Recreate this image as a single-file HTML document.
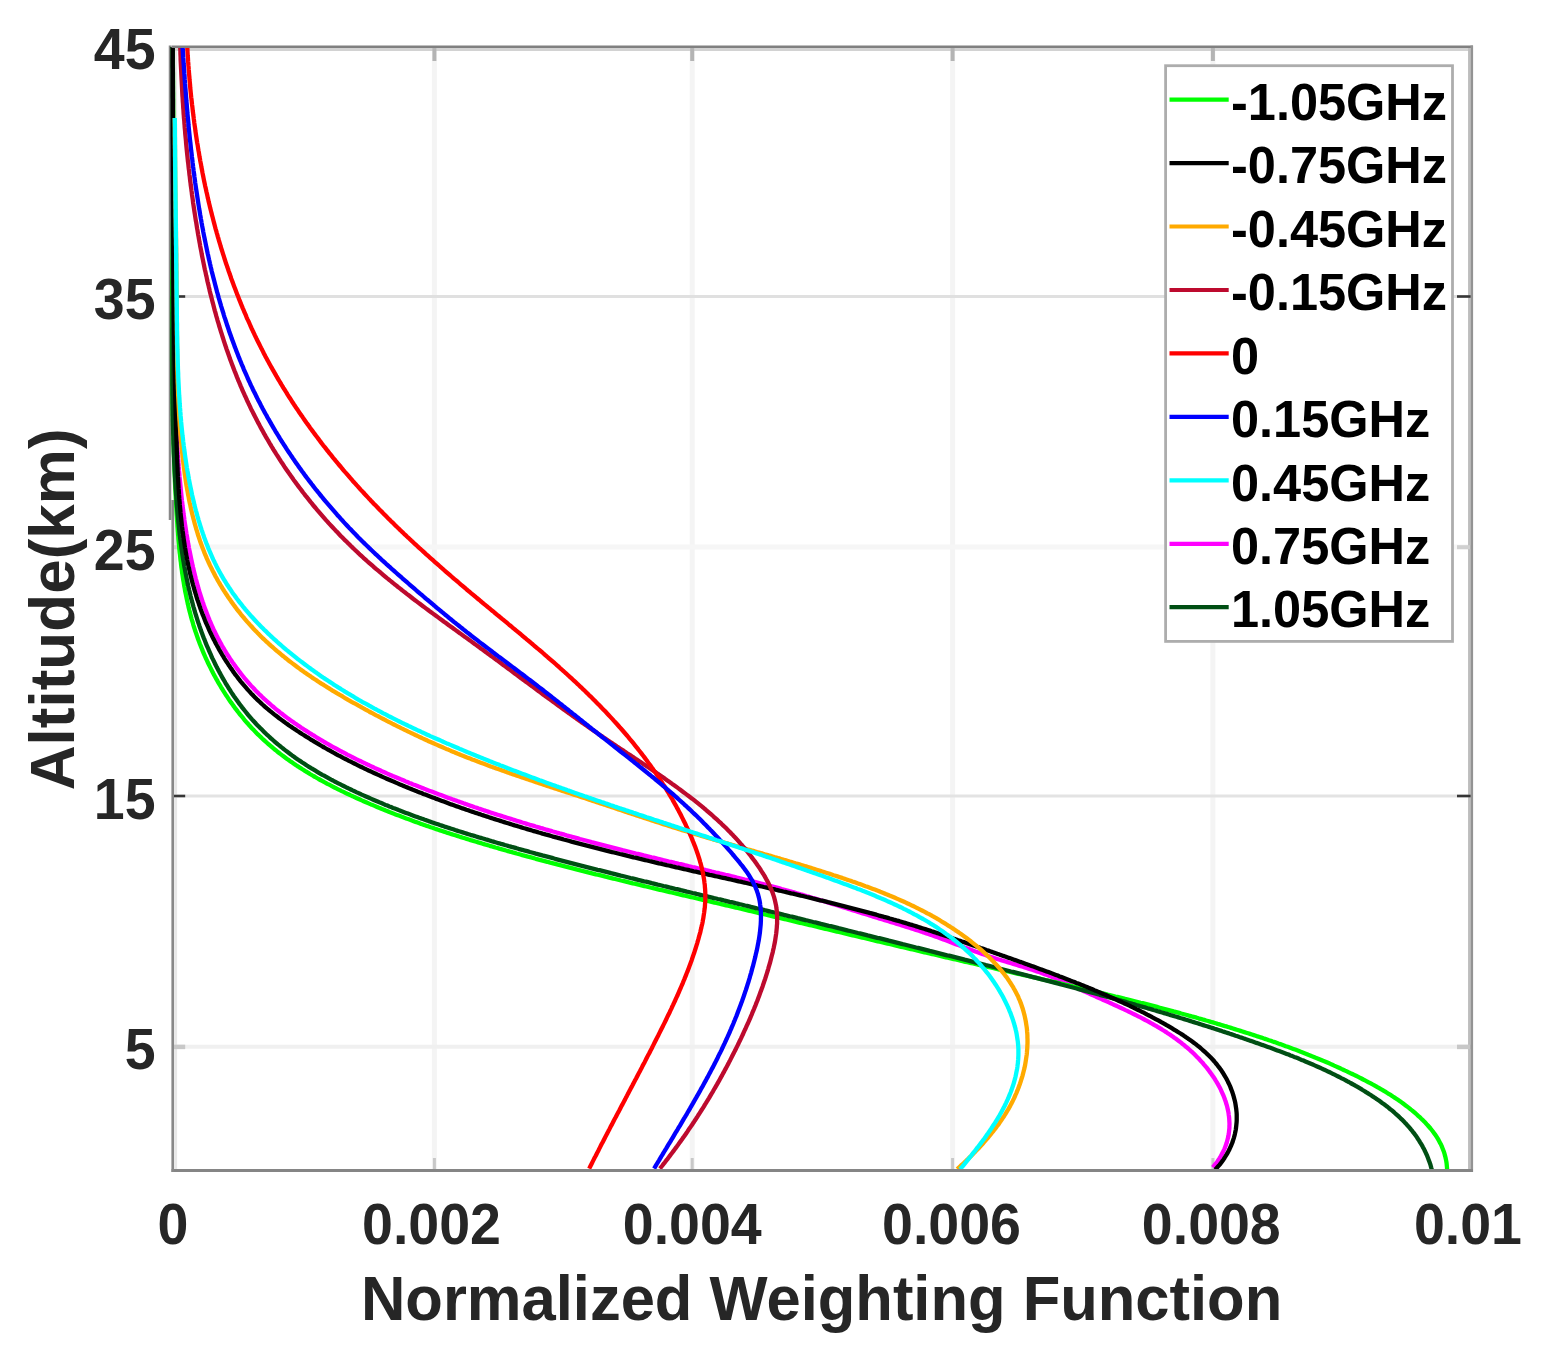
<!DOCTYPE html>
<html><head><meta charset="utf-8"><title>Normalized Weighting Function</title>
<style>html,body{margin:0;padding:0;background:#fff;overflow:hidden}svg{display:block}</style>
</head><body>
<svg width="1551" height="1360" viewBox="0 0 1551 1360">
<rect x="0" y="0" width="1551" height="1360" fill="#ffffff"/>
<line x1="434.4" y1="48" x2="434.4" y2="1169" stroke="#f4f4f4" stroke-width="5"/>
<line x1="692.2" y1="48" x2="692.2" y2="1169" stroke="#f4f4f4" stroke-width="5"/>
<line x1="952.6" y1="48" x2="952.6" y2="1169" stroke="#f4f4f4" stroke-width="5"/>
<line x1="1212.9" y1="48" x2="1212.9" y2="1169" stroke="#f4f4f4" stroke-width="5"/>
<line x1="174" y1="296.4" x2="1470" y2="296.4" stroke="#e0e0e0" stroke-width="3"/>
<line x1="174" y1="546.9" x2="1470" y2="546.9" stroke="#f6f6f6" stroke-width="5"/>
<line x1="174" y1="795.9" x2="1470" y2="795.9" stroke="#e3e3e3" stroke-width="3"/>
<line x1="174" y1="1046.7" x2="1470" y2="1046.7" stroke="#f0f0f0" stroke-width="4"/>
<line x1="175.6" y1="48" x2="175.6" y2="1169" stroke="#e8e8e8" stroke-width="3"/>
<line x1="174" y1="49.5" x2="1470" y2="49.5" stroke="#d2d2d2" stroke-width="3"/>
<line x1="1469.3" y1="48" x2="1469.3" y2="1169" stroke="#bdbdbd" stroke-width="2.5"/>
<line x1="434.4" y1="1169" x2="434.4" y2="1158" stroke="#c8c8c8" stroke-width="3"/>
<line x1="434.4" y1="47" x2="434.4" y2="61" stroke="#b4b4b4" stroke-width="4"/>
<line x1="692.2" y1="1169" x2="692.2" y2="1158" stroke="#c8c8c8" stroke-width="3"/>
<line x1="692.2" y1="47" x2="692.2" y2="61" stroke="#b4b4b4" stroke-width="4"/>
<line x1="952.6" y1="1169" x2="952.6" y2="1158" stroke="#c8c8c8" stroke-width="3"/>
<line x1="952.6" y1="47" x2="952.6" y2="61" stroke="#b4b4b4" stroke-width="4"/>
<line x1="1212.9" y1="1169" x2="1212.9" y2="1158" stroke="#c8c8c8" stroke-width="3"/>
<line x1="1212.9" y1="47" x2="1212.9" y2="61" stroke="#b4b4b4" stroke-width="4"/>
<line x1="173" y1="296.5" x2="185.2" y2="296.5" stroke="#363636" stroke-width="2.6"/>
<line x1="1471" y1="296.5" x2="1457" y2="296.5" stroke="#363636" stroke-width="2.6"/>
<line x1="173" y1="547.2" x2="185.2" y2="547.2" stroke="#d0d0d0" stroke-width="4"/>
<line x1="1471" y1="547.2" x2="1457" y2="547.2" stroke="#d0d0d0" stroke-width="4"/>
<line x1="173" y1="796.0" x2="185.2" y2="796.0" stroke="#363636" stroke-width="2.6"/>
<line x1="1471" y1="796.0" x2="1457" y2="796.0" stroke="#363636" stroke-width="2.6"/>
<line x1="173" y1="1046.9" x2="185.2" y2="1046.9" stroke="#c8c8c8" stroke-width="4.5"/>
<line x1="1471" y1="1046.9" x2="1457" y2="1046.9" stroke="#c8c8c8" stroke-width="4.5"/>
<line x1="170" y1="45.5" x2="170" y2="520" stroke="#888888" stroke-width="2.5"/>
<path d="M172.7,47.0 L172.7,49.0 L172.7,51.0 L172.7,53.0 L172.7,55.0 L172.8,57.0 L172.8,59.0 L172.8,61.0 L172.8,63.0 L172.8,65.0 L172.9,67.0 L172.9,69.0 L172.9,71.0 L172.9,73.0 L172.9,75.0 L172.9,77.0 L172.9,79.0 L172.9,81.0 L172.9,83.0 L172.9,85.0 L173.0,87.0 L173.0,89.0 L173.0,91.0 L173.0,93.0 L173.0,95.0 L173.0,97.0 L173.0,99.0 L173.0,101.0 L173.0,103.0 L173.0,104.9 L173.0,106.9 L173.0,108.9 L173.0,110.9 L173.0,112.9 L173.0,114.9 L173.0,116.9 L173.0,118.9 L173.0,120.9 L173.0,122.9 L173.0,124.9 L173.0,126.9 L172.9,128.9 L172.9,130.9 L172.9,132.9 L172.9,134.9 L172.9,136.9 L172.9,138.9 L172.9,140.9 L172.9,142.9 L172.9,144.9 L172.9,146.9 L172.9,148.9 L172.9,150.9 L172.9,152.9 L172.8,154.9 L172.8,156.9 L172.8,158.9 L172.8,160.9 L172.8,162.9 L172.8,164.9 L172.8,166.9 L172.8,168.9 L172.8,170.9 L172.7,172.9 L172.7,174.9 L172.7,176.9 L172.7,178.9 L172.7,180.9 L172.7,182.9 L172.7,184.9 L172.7,186.9 L172.6,188.9 L172.6,190.9 L172.6,192.9 L172.6,194.9 L172.6,196.9 L172.6,198.9 L172.6,200.9 L172.6,202.9 L172.6,204.9 L172.5,206.9 L172.5,208.9 L172.5,210.9 L172.5,212.9 L172.5,214.9 L172.5,216.9 L172.5,218.9 L172.5,220.9 L172.5,222.8 L172.5,224.8 L172.5,226.8 L172.4,228.8 L172.4,230.8 L172.4,232.8 L172.4,234.8 L172.4,236.8 L172.4,238.8 L172.4,240.8 L172.4,242.8 L172.4,244.8 L172.4,246.8 L172.4,248.8 L172.4,250.8 L172.4,252.8 L172.4,254.8 L172.4,256.8 L172.4,258.8 L172.4,260.8 L172.4,262.8 L172.4,264.8 L172.4,266.8 L172.4,268.8 L172.4,270.8 L172.4,272.8 L172.4,274.8 L172.4,276.8 L172.4,278.8 L172.4,280.8 L172.4,282.8 L172.4,284.8 L172.5,286.8 L172.5,288.8 L172.5,290.8 L172.5,292.8 L172.5,294.8 L172.5,296.8 L172.5,298.8 L172.5,300.8 L172.6,302.8 L172.6,304.8 L172.6,306.7 L172.6,308.7 L172.6,310.7 L172.7,312.7 L172.7,314.7 L172.7,316.7 L172.7,318.7 L172.8,320.7 L172.8,322.7 L172.8,324.7 L172.8,326.7 L172.9,328.7 L172.9,330.7 L172.9,332.7 L173.0,334.7 L173.0,336.7 L173.0,338.7 L173.1,340.7 L173.1,342.7 L173.2,344.7 L173.2,346.7 L173.2,348.7 L173.3,350.7 L173.3,352.7 L173.4,354.7 L173.4,356.7 L173.5,358.7 L173.5,360.7 L173.6,362.7 L173.6,364.7 L173.7,366.6 L173.8,368.6 L173.8,370.6 L173.9,372.6 L173.9,374.6 L174.0,376.6 L174.1,378.6 L174.1,380.6 L174.2,382.6 L174.3,384.6 L174.3,386.6 L174.4,388.6 L174.5,390.6 L174.6,392.6 L174.6,394.6 L174.7,396.6 L174.8,398.6 L174.9,400.6 L175.0,402.6 L175.1,404.6 L175.1,406.6 L175.2,408.6 L175.3,410.6 L175.4,412.5 L175.5,414.5 L175.6,416.5 L175.7,418.5 L175.8,420.5 L175.9,422.5 L176.0,424.5 L176.1,426.5 L176.2,428.5 L176.3,430.5 L176.5,432.5 L176.6,434.5 L176.7,436.5 L176.8,438.5 L176.9,440.5 L177.1,442.5 L177.2,444.5 L177.3,446.5 L177.4,448.5 L177.6,450.5 L177.7,452.4 L177.8,454.4 L178.0,456.4 L178.1,458.4 L178.3,460.4 L178.4,462.4 L178.6,464.4 L178.7,466.4 L178.9,468.4 L179.0,470.4 L179.2,472.4 L179.4,474.4 L179.5,476.4 L179.7,478.3 L179.9,480.3 L180.1,482.3 L180.3,484.3 L180.5,486.3 L180.7,488.3 L180.9,490.3 L181.1,492.3 L181.3,494.3 L181.5,496.2 L181.7,498.2 L181.9,500.2 L182.2,502.2 L182.4,504.2 L182.6,506.2 L182.9,508.1 L183.1,510.1 L183.4,512.1 L183.6,514.1 L183.9,516.1 L184.2,518.0 L184.4,520.0 L184.7,522.0 L185.0,524.0 L185.3,525.9 L185.6,527.9 L185.9,529.9 L186.2,531.9 L186.5,533.8 L186.9,535.8 L187.2,537.8 L187.5,539.7 L187.9,541.7 L188.2,543.7 L188.6,545.6 L188.9,547.6 L189.3,549.6 L189.7,551.5 L190.1,553.5 L190.5,555.5 L190.9,557.4 L191.3,559.4 L191.7,561.3 L192.1,563.3 L192.6,565.2 L193.0,567.2 L193.5,569.1 L193.9,571.1 L194.4,573.0 L194.9,575.0 L195.3,576.9 L195.8,578.8 L196.4,580.8 L196.9,582.7 L197.4,584.6 L197.9,586.5 L198.5,588.4 L199.0,590.4 L199.6,592.3 L200.2,594.2 L200.8,596.1 L201.4,598.0 L202.0,599.9 L202.6,601.7 L203.3,603.6 L203.9,605.5 L204.6,607.4 L205.3,609.2 L206.0,611.1 L206.7,613.0 L207.4,614.8 L208.1,616.7 L208.9,618.5 L209.6,620.3 L210.4,622.2 L211.2,624.0 L212.0,625.8 L212.8,627.6 L213.6,629.4 L214.5,631.2 L215.4,633.0 L216.2,634.8 L217.1,636.5 L218.0,638.3 L219.0,640.1 L219.9,641.8 L220.9,643.6 L221.8,645.3 L222.8,647.0 L223.8,648.7 L224.9,650.5 L225.9,652.2 L226.9,653.8 L228.0,655.5 L229.1,657.2 L230.2,658.9 L231.3,660.5 L232.4,662.2 L233.6,663.8 L234.7,665.4 L235.9,667.0 L237.1,668.7 L238.3,670.2 L239.5,671.8 L240.7,673.4 L242.0,675.0 L243.2,676.5 L244.5,678.1 L245.8,679.6 L247.1,681.1 L248.4,682.6 L249.7,684.1 L251.0,685.6 L252.4,687.1 L253.8,688.5 L255.1,690.0 L256.5,691.4 L257.9,692.8 L259.3,694.2 L260.8,695.6 L262.2,697.0 L263.6,698.3 L265.1,699.7 L266.6,701.0 L268.1,702.4 L269.6,703.7 L271.1,705.0 L272.6,706.3 L274.1,707.5 L275.6,708.8 L277.2,710.1 L278.7,711.3 L280.3,712.6 L281.9,713.8 L283.4,715.0 L285.0,716.2 L286.6,717.4 L288.2,718.6 L289.8,719.7 L291.5,720.9 L293.1,722.0 L294.7,723.2 L296.4,724.3 L298.0,725.4 L299.7,726.6 L301.3,727.7 L303.0,728.8 L304.6,729.9 L306.3,730.9 L308.0,732.0 L309.7,733.1 L311.4,734.1 L313.1,735.2 L314.8,736.2 L316.5,737.3 L318.2,738.3 L319.9,739.3 L321.6,740.3 L323.3,741.4 L325.0,742.4 L326.7,743.4 L328.5,744.3 L330.2,745.3 L331.9,746.3 L333.7,747.3 L335.4,748.2 L337.2,749.2 L338.9,750.1 L340.7,751.1 L342.4,752.0 L344.2,752.9 L346.0,753.9 L347.7,754.8 L349.5,755.7 L351.3,756.6 L353.0,757.5 L354.8,758.4 L356.6,759.3 L358.4,760.2 L360.2,761.0 L362.0,761.9 L363.8,762.8 L365.6,763.6 L367.4,764.5 L369.2,765.3 L371.0,766.2 L372.8,767.0 L374.6,767.9 L376.4,768.7 L378.2,769.5 L380.0,770.3 L381.9,771.2 L383.7,772.0 L385.5,772.8 L387.3,773.6 L389.2,774.4 L391.0,775.2 L392.8,776.0 L394.7,776.7 L396.5,777.5 L398.3,778.3 L400.2,779.1 L402.0,779.8 L403.9,780.6 L405.7,781.4 L407.5,782.1 L409.4,782.9 L411.2,783.6 L413.1,784.4 L414.9,785.1 L416.8,785.8 L418.7,786.6 L420.5,787.3 L422.4,788.0 L424.2,788.8 L426.1,789.5 L427.9,790.2 L429.8,790.9 L431.7,791.6 L433.5,792.3 L435.4,793.0 L437.3,793.7 L439.1,794.4 L441.0,795.1 L442.9,795.8 L444.7,796.5 L446.6,797.2 L448.5,797.9 L450.4,798.6 L452.2,799.3 L454.1,799.9 L456.0,800.6 L457.9,801.3 L459.7,801.9 L461.6,802.6 L463.5,803.3 L465.4,803.9 L467.3,804.6 L469.2,805.2 L471.0,805.9 L472.9,806.5 L474.8,807.2 L476.7,807.8 L478.6,808.5 L480.5,809.1 L482.4,809.7 L484.3,810.4 L486.2,811.0 L488.1,811.6 L489.9,812.2 L491.8,812.9 L493.7,813.5 L495.6,814.1 L497.5,814.7 L499.4,815.3 L501.3,815.9 L503.2,816.5 L505.1,817.1 L507.0,817.7 L508.9,818.3 L510.8,818.9 L512.8,819.5 L514.7,820.1 L516.6,820.7 L518.5,821.3 L520.4,821.9 L522.3,822.5 L524.2,823.0 L526.1,823.6 L528.0,824.2 L529.9,824.8 L531.8,825.3 L533.8,825.9 L535.7,826.5 L537.6,827.0 L539.5,827.6 L541.4,828.2 L543.3,828.7 L545.3,829.3 L547.2,829.8 L549.1,830.4 L551.0,830.9 L552.9,831.5 L554.8,832.0 L556.8,832.6 L558.7,833.1 L560.6,833.7 L562.5,834.2 L564.5,834.7 L566.4,835.3 L568.3,835.8 L570.2,836.3 L572.2,836.9 L574.1,837.4 L576.0,837.9 L577.9,838.4 L579.9,839.0 L581.8,839.5 L583.7,840.0 L585.7,840.5 L587.6,841.0 L589.5,841.5 L591.4,842.1 L593.4,842.6 L595.3,843.1 L597.2,843.6 L599.2,844.1 L601.1,844.6 L603.0,845.1 L605.0,845.6 L606.9,846.1 L608.9,846.6 L610.8,847.1 L612.7,847.6 L614.7,848.1 L616.6,848.6 L618.5,849.1 L620.5,849.6 L622.4,850.1 L624.3,850.5 L626.3,851.0 L628.2,851.5 L630.2,852.0 L632.1,852.5 L634.0,853.0 L636.0,853.5 L637.9,853.9 L639.9,854.4 L641.8,854.9 L643.7,855.4 L645.7,855.8 L647.6,856.3 L649.6,856.8 L651.5,857.3 L653.5,857.7 L655.4,858.2 L657.3,858.7 L659.3,859.1 L661.2,859.6 L663.2,860.1 L665.1,860.5 L667.1,861.0 L669.0,861.5 L670.9,861.9 L672.9,862.4 L674.8,862.9 L676.8,863.3 L678.7,863.8 L680.7,864.2 L682.6,864.7 L684.6,865.2 L686.5,865.6 L688.4,866.1 L690.4,866.5 L692.3,867.0 L694.3,867.4 L696.2,867.9 L698.2,868.4 L700.1,868.8 L702.1,869.3 L704.0,869.7 L706.0,870.2 L707.9,870.6 L709.8,871.1 L711.8,871.6 L713.7,872.0 L715.7,872.5 L717.6,872.9 L719.6,873.4 L721.5,873.8 L723.5,874.3 L725.4,874.8 L727.3,875.2 L729.3,875.7 L731.2,876.2 L733.2,876.6 L735.1,877.1 L737.0,877.6 L739.0,878.0 L740.9,878.5 L742.9,879.0 L744.8,879.5 L746.7,879.9 L748.7,880.4 L750.6,880.9 L752.6,881.4 L754.5,881.9 L756.4,882.4 L758.4,882.9 L760.3,883.4 L762.2,883.8 L764.2,884.3 L766.1,884.8 L768.0,885.4 L770.0,885.9 L771.9,886.4 L773.8,886.9 L775.8,887.4 L777.7,887.9 L779.6,888.4 L781.5,889.0 L783.5,889.5 L785.4,890.0 L787.3,890.5 L789.2,891.1 L791.2,891.6 L793.1,892.2 L795.0,892.7 L796.9,893.3 L798.8,893.8 L800.8,894.4 L802.7,894.9 L804.6,895.5 L806.5,896.1 L808.4,896.6 L810.3,897.2 L812.3,897.8 L814.2,898.3 L816.1,898.9 L818.0,899.5 L819.9,900.1 L821.8,900.6 L823.7,901.2 L825.6,901.8 L827.6,902.4 L829.5,903.0 L831.4,903.6 L833.3,904.2 L835.2,904.7 L837.1,905.3 L839.0,905.9 L840.9,906.5 L842.8,907.1 L844.7,907.7 L846.6,908.3 L848.6,908.9 L850.5,909.5 L852.4,910.1 L854.3,910.7 L856.2,911.3 L858.1,911.9 L860.0,912.5 L861.9,913.1 L863.8,913.7 L865.7,914.2 L867.6,914.8 L869.5,915.4 L871.4,916.0 L873.3,916.6 L875.2,917.2 L877.1,917.8 L879.0,918.4 L880.9,919.0 L882.8,919.5 L884.7,920.1 L886.7,920.7 L888.6,921.3 L890.5,921.9 L892.4,922.5 L894.3,923.0 L896.2,923.6 L898.1,924.2 L900.0,924.8 L901.9,925.4 L903.8,926.0 L905.7,926.6 L907.6,927.2 L909.5,927.8 L911.4,928.4 L913.3,929.0 L915.2,929.6 L917.0,930.2 L918.9,930.8 L920.8,931.4 L922.7,932.1 L924.6,932.7 L926.5,933.4 L928.4,934.0 L930.3,934.7 L932.1,935.3 L934.0,936.0 L935.9,936.7 L937.8,937.3 L939.6,938.0 L941.5,938.7 L943.4,939.4 L945.2,940.1 L947.1,940.8 L949.0,941.5 L950.8,942.2 L952.7,942.9 L954.6,943.7 L956.4,944.4 L958.3,945.1 L960.2,945.8 L962.0,946.5 L963.9,947.2 L965.8,947.9 L967.7,948.6 L969.5,949.3 L971.4,950.0 L973.3,950.7 L975.2,951.4 L977.0,952.1 L978.9,952.8 L980.8,953.5 L982.7,954.1 L984.6,954.8 L986.5,955.4 L988.4,956.1 L990.3,956.7 L992.2,957.3 L994.1,957.9 L996.0,958.6 L997.9,959.2 L999.8,959.8 L1001.7,960.4 L1003.6,960.9 L1005.5,961.5 L1007.5,962.1 L1009.4,962.7 L1011.3,963.3 L1013.2,963.9 L1015.1,964.4 L1017.0,965.0 L1018.9,965.6 L1020.8,966.2 L1022.8,966.8 L1024.7,967.4 L1026.6,968.0 L1028.5,968.6 L1030.3,969.2 L1032.2,969.8 L1034.1,970.4 L1036.0,971.1 L1037.9,971.7 L1039.8,972.3 L1041.6,973.0 L1043.5,973.7 L1045.3,974.4 L1047.2,975.0 L1049.0,975.7 L1050.9,976.5 L1052.7,977.2 L1054.5,977.9 L1056.4,978.7 L1058.2,979.5 L1060.0,980.2 L1061.8,981.0 L1063.6,981.8 L1065.4,982.6 L1067.2,983.4 L1069.0,984.2 L1070.8,985.1 L1072.6,985.9 L1074.4,986.7 L1076.1,987.5 L1077.9,988.4 L1079.7,989.2 L1081.5,990.0 L1083.3,990.9 L1085.2,991.7 L1087.0,992.5 L1088.8,993.4 L1090.6,994.2 L1092.4,995.0 L1094.3,995.8 L1096.1,996.7 L1097.9,997.5 L1099.7,998.3 L1101.6,999.1 L1103.4,1000.0 L1105.3,1000.8 L1107.1,1001.6 L1108.9,1002.4 L1110.8,1003.3 L1112.6,1004.1 L1114.5,1005.0 L1116.3,1005.8 L1118.1,1006.6 L1120.0,1007.5 L1121.8,1008.3 L1123.6,1009.2 L1125.5,1010.1 L1127.3,1010.9 L1129.1,1011.8 L1130.9,1012.7 L1132.7,1013.6 L1134.6,1014.5 L1136.4,1015.4 L1138.2,1016.3 L1140.0,1017.2 L1141.8,1018.1 L1143.5,1019.0 L1145.3,1020.0 L1147.1,1020.9 L1148.9,1021.9 L1150.6,1022.9 L1152.4,1023.8 L1154.1,1024.8 L1155.9,1025.8 L1157.6,1026.9 L1159.3,1027.9 L1161.0,1028.9 L1162.7,1030.0 L1164.4,1031.0 L1166.1,1032.1 L1167.7,1033.2 L1169.4,1034.3 L1171.1,1035.4 L1172.7,1036.5 L1174.3,1037.7 L1175.9,1038.8 L1177.5,1040.0 L1179.1,1041.2 L1180.7,1042.4 L1182.2,1043.7 L1183.8,1044.9 L1185.3,1046.2 L1186.8,1047.4 L1188.3,1048.7 L1189.8,1050.0 L1191.3,1051.4 L1192.8,1052.7 L1194.2,1054.1 L1195.6,1055.5 L1197.0,1056.9 L1198.4,1058.3 L1199.8,1059.8 L1201.1,1061.3 L1202.5,1062.7 L1203.8,1064.3 L1205.1,1065.8 L1206.4,1067.3 L1207.6,1068.9 L1208.8,1070.5 L1210.0,1072.1 L1211.2,1073.7 L1212.4,1075.4 L1213.5,1077.0 L1214.6,1078.7 L1215.6,1080.4 L1216.7,1082.1 L1217.7,1083.8 L1218.6,1085.5 L1219.6,1087.3 L1220.5,1089.0 L1221.3,1090.8 L1222.1,1092.6 L1222.9,1094.4 L1223.7,1096.2 L1224.4,1098.0 L1225.0,1099.8 L1225.7,1101.6 L1226.2,1103.5 L1226.8,1105.3 L1227.3,1107.2 L1227.7,1109.0 L1228.1,1110.9 L1228.5,1112.8 L1228.7,1114.6 L1229.0,1116.5 L1229.2,1118.4 L1229.3,1120.3 L1229.4,1122.2 L1229.5,1124.1 L1229.4,1126.0 L1229.4,1127.9 L1229.2,1129.8 L1229.0,1131.7 L1228.8,1133.6 L1228.5,1135.5 L1228.1,1137.4 L1227.6,1139.3 L1227.1,1141.2 L1226.6,1143.1 L1225.9,1145.0 L1225.2,1146.9 L1224.5,1148.8 L1223.6,1150.7 L1222.7,1152.6 L1221.7,1154.4 L1220.7,1156.3 L1219.6,1158.2 L1218.4,1160.0 L1217.1,1161.9 L1215.8,1163.7 L1214.3,1165.5 L1212.8,1167.4" fill="none" stroke="#ff00ff" stroke-width="4.3" stroke-linejoin="round"/>
<path d="M172.5,47.0 L172.6,49.0 L172.6,51.0 L172.7,53.0 L172.7,55.0 L172.7,57.0 L172.8,59.0 L172.8,61.0 L172.8,63.0 L172.9,65.0 L172.9,67.0 L172.9,69.0 L172.9,71.0 L173.0,73.0 L173.0,75.0 L173.0,77.0 L173.0,79.0 L173.1,81.0 L173.1,83.0 L173.1,85.0 L173.1,87.0 L173.1,89.0 L173.1,91.0 L173.2,93.0 L173.2,95.0 L173.2,97.0 L173.2,99.0 L173.2,101.0 L173.2,103.0 L173.2,105.0 L173.2,107.0 L173.2,109.0 L173.3,111.0 L173.3,113.0 L173.3,115.0 L173.3,117.0 L173.3,119.0 L173.3,121.0 L173.3,123.0 L173.3,125.0 L173.3,127.0 L173.3,129.0 L173.3,131.0 L173.3,133.0 L173.3,135.0 L173.3,137.0 L173.3,139.0 L173.3,141.0 L173.3,143.0 L173.3,145.0 L173.2,147.0 L173.2,149.0 L173.2,151.0 L173.2,153.0 L173.2,155.0 L173.2,157.0 L173.2,159.0 L173.2,161.0 L173.2,163.0 L173.2,165.0 L173.2,167.0 L173.2,169.0 L173.1,171.0 L173.1,173.0 L173.1,175.0 L173.1,177.0 L173.1,179.0 L173.1,181.0 L173.1,183.0 L173.0,185.0 L173.0,187.0 L173.0,189.0 L173.0,191.0 L173.0,193.0 L173.0,195.0 L173.0,197.0 L172.9,199.0 L172.9,201.0 L172.9,203.0 L172.9,205.0 L172.9,207.0 L172.9,209.0 L172.8,211.0 L172.8,213.0 L172.8,215.0 L172.8,217.0 L172.8,219.0 L172.8,221.0 L172.7,223.0 L172.7,225.0 L172.7,227.0 L172.7,229.0 L172.7,231.0 L172.6,233.0 L172.6,235.0 L172.6,237.0 L172.6,239.0 L172.6,241.0 L172.6,243.0 L172.5,245.0 L172.5,247.0 L172.5,249.0 L172.5,251.0 L172.5,253.0 L172.5,255.0 L172.4,257.0 L172.4,259.0 L172.4,261.0 L172.4,263.0 L172.4,265.0 L172.4,267.0 L172.3,269.0 L172.3,271.0 L172.3,273.0 L172.3,275.0 L172.3,277.0 L172.3,279.0 L172.3,281.0 L172.2,283.0 L172.2,285.0 L172.2,287.0 L172.2,289.0 L172.2,291.0 L172.2,293.0 L172.2,295.0 L172.2,297.0 L172.1,299.0 L172.1,301.0 L172.1,303.0 L172.1,305.0 L172.1,307.0 L172.1,309.0 L172.1,311.0 L172.1,313.0 L172.1,315.0 L172.1,317.0 L172.1,319.0 L172.1,321.0 L172.1,323.0 L172.1,325.0 L172.1,327.0 L172.1,329.0 L172.1,331.0 L172.1,333.0 L172.1,335.0 L172.1,337.0 L172.1,339.0 L172.1,341.0 L172.1,343.0 L172.1,345.0 L172.1,347.0 L172.1,348.9 L172.1,350.9 L172.1,352.9 L172.1,354.9 L172.1,356.9 L172.1,358.9 L172.1,360.9 L172.2,362.9 L172.2,364.9 L172.2,366.9 L172.2,368.9 L172.2,370.9 L172.2,372.9 L172.2,374.9 L172.3,376.9 L172.3,378.9 L172.3,380.9 L172.3,382.9 L172.3,384.9 L172.4,386.9 L172.4,388.9 L172.4,390.9 L172.4,392.9 L172.5,394.9 L172.5,396.9 L172.5,398.9 L172.6,400.9 L172.6,402.9 L172.6,404.9 L172.7,406.9 L172.7,408.9 L172.7,410.9 L172.8,412.9 L172.8,414.9 L172.9,416.9 L172.9,418.9 L173.0,420.9 L173.0,422.9 L173.0,424.9 L173.1,426.9 L173.1,428.9 L173.2,430.9 L173.2,432.9 L173.3,434.9 L173.4,436.9 L173.4,438.9 L173.5,440.9 L173.5,442.9 L173.6,444.9 L173.7,446.9 L173.7,448.9 L173.8,450.9 L173.8,452.9 L173.9,454.9 L174.0,456.9 L174.1,458.9 L174.1,460.9 L174.2,462.9 L174.3,464.9 L174.4,466.9 L174.4,468.9 L174.5,470.9 L174.6,472.9 L174.7,474.9 L174.8,476.9 L174.9,478.9 L174.9,480.9 L175.0,482.9 L175.1,484.9 L175.2,486.9 L175.3,488.9 L175.4,490.9 L175.5,492.9 L175.6,494.9 L175.7,496.9 L175.8,498.9 L175.9,500.9 L176.1,502.9 L176.2,504.9 L176.3,506.9 L176.4,508.9 L176.5,510.9 L176.6,512.9 L176.7,514.9 L176.9,516.9 L177.0,518.9 L177.1,520.9 L177.3,522.9 L177.4,524.9 L177.5,526.9 L177.7,528.9 L177.8,530.9 L178.0,532.8 L178.1,534.8 L178.3,536.8 L178.4,538.8 L178.6,540.8 L178.8,542.8 L179.0,544.8 L179.2,546.8 L179.3,548.8 L179.5,550.8 L179.7,552.8 L180.0,554.7 L180.2,556.7 L180.4,558.7 L180.6,560.7 L180.9,562.7 L181.1,564.7 L181.3,566.6 L181.6,568.6 L181.9,570.6 L182.1,572.6 L182.4,574.5 L182.7,576.5 L183.0,578.5 L183.3,580.4 L183.7,582.4 L184.0,584.4 L184.3,586.3 L184.7,588.3 L185.0,590.3 L185.4,592.2 L185.8,594.2 L186.2,596.1 L186.6,598.1 L187.0,600.0 L187.4,601.9 L187.8,603.9 L188.3,605.8 L188.7,607.8 L189.2,609.7 L189.7,611.6 L190.2,613.6 L190.7,615.5 L191.2,617.4 L191.7,619.3 L192.3,621.2 L192.9,623.2 L193.4,625.1 L194.0,627.0 L194.6,628.9 L195.2,630.8 L195.9,632.7 L196.5,634.6 L197.2,636.5 L197.8,638.4 L198.5,640.2 L199.2,642.1 L199.9,644.0 L200.7,645.9 L201.4,647.7 L202.2,649.6 L202.9,651.4 L203.7,653.3 L204.5,655.1 L205.3,657.0 L206.1,658.8 L207.0,660.6 L207.8,662.5 L208.7,664.3 L209.6,666.1 L210.5,667.9 L211.4,669.7 L212.3,671.5 L213.2,673.3 L214.1,675.0 L215.1,676.8 L216.1,678.6 L217.1,680.3 L218.0,682.1 L219.1,683.8 L220.1,685.5 L221.1,687.3 L222.2,689.0 L223.2,690.7 L224.3,692.4 L225.4,694.1 L226.5,695.8 L227.6,697.4 L228.7,699.1 L229.8,700.7 L231.0,702.4 L232.2,704.0 L233.3,705.6 L234.5,707.2 L235.7,708.9 L236.9,710.4 L238.1,712.0 L239.4,713.6 L240.6,715.2 L241.9,716.7 L243.2,718.2 L244.4,719.8 L245.7,721.3 L247.0,722.8 L248.4,724.3 L249.7,725.8 L251.0,727.2 L252.4,728.7 L253.8,730.1 L255.2,731.6 L256.5,733.0 L257.9,734.4 L259.4,735.8 L260.8,737.1 L262.2,738.5 L263.7,739.9 L265.1,741.2 L266.6,742.5 L268.1,743.8 L269.6,745.1 L271.1,746.4 L272.6,747.7 L274.1,749.0 L275.7,750.2 L277.2,751.5 L278.8,752.7 L280.3,753.9 L281.9,755.1 L283.5,756.3 L285.1,757.5 L286.7,758.7 L288.3,759.8 L289.9,761.0 L291.6,762.1 L293.2,763.2 L294.8,764.4 L296.5,765.5 L298.2,766.6 L299.8,767.7 L301.5,768.7 L303.2,769.8 L304.9,770.9 L306.6,771.9 L308.3,772.9 L310.0,774.0 L311.7,775.0 L313.4,776.0 L315.2,777.0 L316.9,778.0 L318.6,779.0 L320.4,780.0 L322.1,780.9 L323.9,781.9 L325.7,782.8 L327.4,783.8 L329.2,784.7 L331.0,785.6 L332.8,786.6 L334.5,787.5 L336.3,788.4 L338.1,789.3 L339.9,790.2 L341.7,791.1 L343.5,791.9 L345.3,792.8 L347.2,793.7 L349.0,794.5 L350.8,795.4 L352.6,796.2 L354.4,797.1 L356.3,797.9 L358.1,798.7 L359.9,799.5 L361.8,800.4 L363.6,801.2 L365.4,802.0 L367.3,802.8 L369.1,803.6 L370.9,804.4 L372.8,805.1 L374.6,805.9 L376.5,806.7 L378.3,807.5 L380.2,808.2 L382.0,809.0 L383.9,809.7 L385.7,810.5 L387.6,811.2 L389.4,812.0 L391.3,812.7 L393.2,813.4 L395.0,814.2 L396.9,814.9 L398.8,815.6 L400.6,816.3 L402.5,817.0 L404.4,817.7 L406.2,818.4 L408.1,819.1 L410.0,819.8 L411.9,820.5 L413.7,821.2 L415.6,821.9 L417.5,822.5 L419.4,823.2 L421.2,823.9 L423.1,824.6 L425.0,825.2 L426.9,825.9 L428.8,826.5 L430.7,827.2 L432.6,827.8 L434.5,828.5 L436.3,829.1 L438.2,829.7 L440.1,830.4 L442.0,831.0 L443.9,831.6 L445.8,832.2 L447.7,832.9 L449.6,833.5 L451.5,834.1 L453.4,834.7 L455.3,835.3 L457.2,835.9 L459.1,836.5 L461.0,837.1 L462.9,837.7 L464.8,838.3 L466.7,838.9 L468.7,839.5 L470.6,840.1 L472.5,840.6 L474.4,841.2 L476.3,841.8 L478.2,842.4 L480.1,842.9 L482.0,843.5 L483.9,844.1 L485.9,844.7 L487.8,845.2 L489.7,845.8 L491.6,846.3 L493.5,846.9 L495.4,847.5 L497.4,848.0 L499.3,848.6 L501.2,849.1 L503.1,849.7 L505.0,850.2 L507.0,850.8 L508.9,851.3 L510.8,851.8 L512.7,852.4 L514.6,852.9 L516.6,853.5 L518.5,854.0 L520.4,854.5 L522.3,855.1 L524.3,855.6 L526.2,856.1 L528.1,856.7 L530.1,857.2 L532.0,857.7 L533.9,858.2 L535.8,858.8 L537.8,859.3 L539.7,859.8 L541.6,860.3 L543.6,860.8 L545.5,861.3 L547.4,861.8 L549.4,862.4 L551.3,862.9 L553.2,863.4 L555.2,863.9 L557.1,864.4 L559.0,864.9 L561.0,865.4 L562.9,865.9 L564.8,866.4 L566.8,866.9 L568.7,867.4 L570.6,867.9 L572.6,868.4 L574.5,868.9 L576.4,869.4 L578.4,869.9 L580.3,870.4 L582.3,870.9 L584.2,871.3 L586.1,871.8 L588.1,872.3 L590.0,872.8 L592.0,873.3 L593.9,873.8 L595.8,874.3 L597.8,874.7 L599.7,875.2 L601.7,875.7 L603.6,876.2 L605.5,876.7 L607.5,877.1 L609.4,877.6 L611.4,878.1 L613.3,878.6 L615.2,879.0 L617.2,879.5 L619.1,880.0 L621.1,880.5 L623.0,880.9 L625.0,881.4 L626.9,881.9 L628.9,882.3 L630.8,882.8 L632.7,883.3 L634.7,883.7 L636.6,884.2 L638.6,884.7 L640.5,885.1 L642.5,885.6 L644.4,886.1 L646.4,886.5 L648.3,887.0 L650.3,887.5 L652.2,887.9 L654.1,888.4 L656.1,888.8 L658.0,889.3 L660.0,889.8 L661.9,890.2 L663.9,890.7 L665.8,891.1 L667.8,891.6 L669.7,892.1 L671.7,892.5 L673.6,893.0 L675.6,893.4 L677.5,893.9 L679.5,894.3 L681.4,894.8 L683.4,895.3 L685.3,895.7 L687.3,896.2 L689.2,896.6 L691.1,897.1 L693.1,897.5 L695.0,898.0 L697.0,898.5 L698.9,898.9 L700.9,899.4 L702.8,899.8 L704.8,900.3 L706.7,900.7 L708.7,901.2 L710.6,901.6 L712.6,902.1 L714.5,902.6 L716.5,903.0 L718.4,903.5 L720.4,903.9 L722.3,904.4 L724.3,904.8 L726.2,905.3 L728.1,905.7 L730.1,906.2 L732.0,906.7 L734.0,907.1 L735.9,907.6 L737.9,908.0 L739.8,908.5 L741.8,908.9 L743.7,909.4 L745.7,909.9 L747.6,910.3 L749.6,910.8 L751.5,911.2 L753.4,911.7 L755.4,912.2 L757.3,912.6 L759.3,913.1 L761.2,913.5 L763.2,914.0 L765.1,914.5 L767.1,914.9 L769.0,915.4 L770.9,915.8 L772.9,916.3 L774.8,916.8 L776.8,917.2 L778.7,917.7 L780.7,918.1 L782.6,918.6 L784.6,919.1 L786.5,919.5 L788.4,920.0 L790.4,920.5 L792.3,920.9 L794.3,921.4 L796.2,921.8 L798.2,922.3 L800.1,922.8 L802.1,923.2 L804.0,923.7 L805.9,924.2 L807.9,924.6 L809.8,925.1 L811.8,925.5 L813.7,926.0 L815.7,926.5 L817.6,926.9 L819.5,927.4 L821.5,927.9 L823.4,928.3 L825.4,928.8 L827.3,929.2 L829.3,929.7 L831.2,930.2 L833.1,930.6 L835.1,931.1 L837.0,931.6 L839.0,932.0 L840.9,932.5 L842.9,932.9 L844.8,933.4 L846.8,933.9 L848.7,934.3 L850.6,934.8 L852.6,935.3 L854.5,935.7 L856.5,936.2 L858.4,936.6 L860.4,937.1 L862.3,937.6 L864.2,938.0 L866.2,938.5 L868.1,939.0 L870.1,939.4 L872.0,939.9 L874.0,940.3 L875.9,940.8 L877.8,941.3 L879.8,941.7 L881.7,942.2 L883.7,942.6 L885.6,943.1 L887.6,943.6 L889.5,944.0 L891.5,944.5 L893.4,944.9 L895.3,945.4 L897.3,945.9 L899.2,946.3 L901.2,946.8 L903.1,947.2 L905.1,947.7 L907.0,948.1 L909.0,948.6 L910.9,949.1 L912.8,949.5 L914.8,950.0 L916.7,950.4 L918.7,950.9 L920.6,951.3 L922.6,951.8 L924.5,952.3 L926.5,952.7 L928.4,953.2 L930.4,953.6 L932.3,954.1 L934.2,954.5 L936.2,955.0 L938.1,955.4 L940.1,955.9 L942.0,956.3 L944.0,956.8 L945.9,957.3 L947.9,957.7 L949.8,958.2 L951.8,958.6 L953.7,959.1 L955.7,959.5 L957.6,960.0 L959.6,960.4 L961.5,960.9 L963.5,961.3 L965.4,961.8 L967.4,962.2 L969.3,962.6 L971.3,963.1 L973.2,963.5 L975.1,964.0 L977.1,964.4 L979.0,964.9 L981.0,965.3 L982.9,965.8 L984.9,966.2 L986.8,966.7 L988.8,967.1 L990.7,967.5 L992.7,968.0 L994.6,968.4 L996.6,968.9 L998.5,969.3 L1000.5,969.8 L1002.4,970.2 L1004.4,970.7 L1006.4,971.1 L1008.3,971.5 L1010.3,972.0 L1012.2,972.4 L1014.2,972.9 L1016.1,973.3 L1018.1,973.8 L1020.0,974.2 L1022.0,974.6 L1023.9,975.1 L1025.9,975.5 L1027.8,976.0 L1029.8,976.4 L1031.7,976.9 L1033.7,977.3 L1035.6,977.7 L1037.6,978.2 L1039.5,978.6 L1041.5,979.1 L1043.4,979.5 L1045.4,980.0 L1047.3,980.4 L1049.3,980.9 L1051.2,981.3 L1053.2,981.8 L1055.1,982.2 L1057.1,982.7 L1059.0,983.1 L1061.0,983.6 L1062.9,984.0 L1064.9,984.5 L1066.8,984.9 L1068.8,985.4 L1070.7,985.8 L1072.6,986.3 L1074.6,986.7 L1076.5,987.2 L1078.5,987.6 L1080.4,988.1 L1082.4,988.5 L1084.3,989.0 L1086.3,989.5 L1088.2,989.9 L1090.2,990.4 L1092.1,990.8 L1094.1,991.3 L1096.0,991.8 L1097.9,992.2 L1099.9,992.7 L1101.8,993.2 L1103.8,993.6 L1105.7,994.1 L1107.7,994.6 L1109.6,995.0 L1111.6,995.5 L1113.5,996.0 L1115.4,996.5 L1117.4,996.9 L1119.3,997.4 L1121.3,997.9 L1123.2,998.4 L1125.1,998.9 L1127.1,999.3 L1129.0,999.8 L1131.0,1000.3 L1132.9,1000.8 L1134.8,1001.3 L1136.8,1001.8 L1138.7,1002.3 L1140.6,1002.8 L1142.6,1003.2 L1144.5,1003.7 L1146.4,1004.2 L1148.4,1004.7 L1150.3,1005.2 L1152.2,1005.7 L1154.2,1006.2 L1156.1,1006.7 L1158.0,1007.2 L1160.0,1007.8 L1161.9,1008.3 L1163.8,1008.8 L1165.8,1009.3 L1167.7,1009.8 L1169.6,1010.3 L1171.5,1010.8 L1173.5,1011.4 L1175.4,1011.9 L1177.3,1012.4 L1179.3,1012.9 L1181.2,1013.5 L1183.1,1014.0 L1185.0,1014.5 L1186.9,1015.0 L1188.9,1015.6 L1190.8,1016.1 L1192.7,1016.7 L1194.6,1017.2 L1196.6,1017.7 L1198.5,1018.3 L1200.4,1018.8 L1202.3,1019.4 L1204.2,1019.9 L1206.1,1020.5 L1208.1,1021.0 L1210.0,1021.6 L1211.9,1022.2 L1213.8,1022.7 L1215.7,1023.3 L1217.6,1023.9 L1219.5,1024.4 L1221.4,1025.0 L1223.4,1025.6 L1225.3,1026.2 L1227.2,1026.7 L1229.1,1027.3 L1231.0,1027.9 L1232.9,1028.5 L1234.8,1029.1 L1236.7,1029.7 L1238.6,1030.3 L1240.5,1030.9 L1242.4,1031.5 L1244.3,1032.1 L1246.2,1032.7 L1248.1,1033.3 L1250.0,1033.9 L1251.9,1034.5 L1253.8,1035.1 L1255.7,1035.7 L1257.6,1036.4 L1259.5,1037.0 L1261.4,1037.6 L1263.3,1038.3 L1265.1,1038.9 L1267.0,1039.5 L1268.9,1040.2 L1270.8,1040.8 L1272.7,1041.5 L1274.6,1042.1 L1276.5,1042.8 L1278.3,1043.5 L1280.2,1044.1 L1282.1,1044.8 L1284.0,1045.5 L1285.8,1046.2 L1287.7,1046.8 L1289.6,1047.5 L1291.5,1048.2 L1293.3,1048.9 L1295.2,1049.6 L1297.1,1050.3 L1298.9,1051.0 L1300.8,1051.8 L1302.7,1052.5 L1304.5,1053.2 L1306.4,1053.9 L1308.3,1054.7 L1310.1,1055.4 L1312.0,1056.2 L1313.8,1056.9 L1315.7,1057.7 L1317.5,1058.4 L1319.4,1059.2 L1321.2,1060.0 L1323.1,1060.8 L1324.9,1061.5 L1326.7,1062.3 L1328.6,1063.1 L1330.4,1063.9 L1332.3,1064.7 L1334.1,1065.6 L1335.9,1066.4 L1337.8,1067.2 L1339.6,1068.0 L1341.4,1068.9 L1343.2,1069.7 L1345.1,1070.6 L1346.9,1071.4 L1348.7,1072.3 L1350.5,1073.2 L1352.3,1074.0 L1354.1,1074.9 L1356.0,1075.8 L1357.8,1076.7 L1359.6,1077.6 L1361.4,1078.5 L1363.2,1079.5 L1365.0,1080.4 L1366.8,1081.3 L1368.6,1082.3 L1370.3,1083.2 L1372.1,1084.2 L1373.9,1085.1 L1375.7,1086.1 L1377.4,1087.1 L1379.2,1088.1 L1380.9,1089.1 L1382.7,1090.1 L1384.4,1091.2 L1386.1,1092.2 L1387.8,1093.3 L1389.6,1094.3 L1391.3,1095.4 L1392.9,1096.5 L1394.6,1097.6 L1396.3,1098.7 L1397.9,1099.8 L1399.6,1101.0 L1401.2,1102.1 L1402.8,1103.3 L1404.4,1104.5 L1406.0,1105.7 L1407.6,1106.9 L1409.2,1108.1 L1410.7,1109.4 L1412.3,1110.6 L1413.8,1111.9 L1415.3,1113.2 L1416.8,1114.5 L1418.2,1115.8 L1419.7,1117.1 L1421.1,1118.5 L1422.5,1119.8 L1423.9,1121.2 L1425.3,1122.6 L1426.6,1124.1 L1427.9,1125.5 L1429.2,1127.0 L1430.5,1128.5 L1431.7,1130.0 L1432.9,1131.5 L1434.0,1133.1 L1435.2,1134.6 L1436.2,1136.2 L1437.3,1137.9 L1438.3,1139.5 L1439.2,1141.2 L1440.1,1142.9 L1441.0,1144.6 L1441.8,1146.4 L1442.5,1148.2 L1443.2,1150.0 L1443.9,1151.8 L1444.5,1153.7 L1445.0,1155.6 L1445.5,1157.5 L1445.9,1159.4 L1446.3,1161.4 L1446.6,1163.4 L1446.8,1165.5 L1447.0,1167.6 L1447.1,1169.7" fill="none" stroke="#00ff00" stroke-width="4.3" stroke-linejoin="round"/>
<path d="M172.7,47.0 L172.7,49.0 L172.7,51.0 L172.7,53.0 L172.7,55.0 L172.7,57.0 L172.6,59.0 L172.6,61.0 L172.6,63.0 L172.6,65.0 L172.6,67.0 L172.6,69.0 L172.6,71.0 L172.6,73.0 L172.6,75.0 L172.6,77.0 L172.6,79.0 L172.6,81.0 L172.6,83.0 L172.6,85.0 L172.6,87.0 L172.6,89.0 L172.6,91.0 L172.6,93.0 L172.6,95.0 L172.6,97.0 L172.6,99.0 L172.6,101.0 L172.6,103.0 L172.6,105.0 L172.6,107.0 L172.6,109.0 L172.6,111.0 L172.6,113.0 L172.6,115.0 L172.6,117.0 L172.6,119.0 L172.6,121.0 L172.6,123.0 L172.6,125.0 L172.6,127.0 L172.6,129.0 L172.6,131.0 L172.6,133.0 L172.6,135.0 L172.6,137.0 L172.6,139.0 L172.6,141.0 L172.6,143.0 L172.7,145.0 L172.7,147.0 L172.7,149.0 L172.7,151.0 L172.7,153.0 L172.7,155.0 L172.7,157.0 L172.7,159.0 L172.7,161.0 L172.7,163.0 L172.7,165.0 L172.7,167.0 L172.7,169.0 L172.7,171.0 L172.8,173.0 L172.8,175.0 L172.8,177.0 L172.8,179.0 L172.8,181.0 L172.8,183.0 L172.8,185.0 L172.8,187.0 L172.8,189.0 L172.8,191.0 L172.8,193.0 L172.8,195.0 L172.8,197.0 L172.8,199.0 L172.8,201.0 L172.8,203.0 L172.9,205.0 L172.9,207.0 L172.9,209.0 L172.9,211.0 L172.9,213.0 L172.9,215.0 L172.9,217.0 L172.9,219.0 L172.9,221.0 L172.9,223.0 L172.9,225.0 L172.9,227.0 L172.9,229.0 L172.9,231.0 L172.9,233.0 L172.9,235.0 L172.9,237.0 L172.9,239.0 L172.9,241.0 L172.9,243.0 L172.9,245.0 L172.9,247.0 L172.9,249.0 L172.9,251.0 L172.9,253.0 L172.9,255.0 L172.9,257.0 L172.9,259.0 L172.8,261.0 L172.8,263.0 L172.8,265.0 L172.8,267.0 L172.8,269.0 L172.8,271.0 L172.8,273.0 L172.8,275.0 L172.8,277.0 L172.8,279.0 L172.7,281.0 L172.7,283.0 L172.7,285.0 L172.7,287.0 L172.7,289.0 L172.7,291.0 L172.7,293.0 L172.7,295.0 L172.6,297.0 L172.6,299.0 L172.6,301.0 L172.6,303.0 L172.6,305.0 L172.6,307.0 L172.6,309.0 L172.6,311.0 L172.5,313.0 L172.5,315.0 L172.5,317.0 L172.5,319.0 L172.5,321.0 L172.5,323.0 L172.5,325.0 L172.5,327.0 L172.4,329.0 L172.4,331.0 L172.4,333.0 L172.4,335.0 L172.4,337.0 L172.4,339.0 L172.4,341.0 L172.4,343.0 L172.4,345.0 L172.4,347.0 L172.4,349.0 L172.4,351.0 L172.4,353.0 L172.4,355.0 L172.4,357.0 L172.4,359.0 L172.4,361.0 L172.4,363.0 L172.4,365.0 L172.4,367.0 L172.4,369.0 L172.4,371.0 L172.4,373.0 L172.4,375.0 L172.4,377.0 L172.4,378.9 L172.4,380.9 L172.4,382.9 L172.4,384.9 L172.5,386.9 L172.5,388.9 L172.5,390.9 L172.5,392.9 L172.5,394.9 L172.6,396.9 L172.6,398.9 L172.6,400.9 L172.6,402.9 L172.7,404.9 L172.7,406.9 L172.7,408.9 L172.8,410.9 L172.8,412.9 L172.8,414.9 L172.9,416.9 L172.9,418.9 L172.9,420.9 L173.0,422.9 L173.0,424.9 L173.1,426.9 L173.1,428.9 L173.2,430.9 L173.2,432.9 L173.3,434.9 L173.4,436.9 L173.4,438.9 L173.5,440.9 L173.5,442.9 L173.6,444.9 L173.7,446.9 L173.8,448.9 L173.8,450.9 L173.9,452.9 L174.0,454.9 L174.1,456.9 L174.2,458.9 L174.2,460.9 L174.3,462.9 L174.4,464.9 L174.5,466.9 L174.6,468.9 L174.7,470.9 L174.8,472.8 L174.9,474.8 L175.0,476.8 L175.1,478.8 L175.2,480.8 L175.4,482.8 L175.5,484.8 L175.6,486.8 L175.7,488.8 L175.9,490.8 L176.0,492.8 L176.1,494.8 L176.3,496.8 L176.4,498.8 L176.6,500.8 L176.7,502.8 L176.9,504.8 L177.0,506.8 L177.2,508.8 L177.3,510.8 L177.5,512.8 L177.7,514.8 L177.9,516.8 L178.1,518.8 L178.3,520.7 L178.4,522.7 L178.7,524.7 L178.9,526.7 L179.1,528.7 L179.3,530.7 L179.5,532.7 L179.7,534.7 L180.0,536.7 L180.2,538.6 L180.5,540.6 L180.7,542.6 L181.0,544.6 L181.3,546.6 L181.5,548.6 L181.8,550.5 L182.1,552.5 L182.4,554.5 L182.7,556.5 L183.0,558.4 L183.3,560.4 L183.7,562.4 L184.0,564.4 L184.3,566.3 L184.7,568.3 L185.1,570.3 L185.4,572.2 L185.8,574.2 L186.2,576.2 L186.6,578.1 L187.0,580.1 L187.4,582.0 L187.8,584.0 L188.2,585.9 L188.7,587.9 L189.1,589.8 L189.6,591.8 L190.1,593.7 L190.5,595.7 L191.0,597.6 L191.5,599.6 L192.0,601.5 L192.6,603.4 L193.1,605.4 L193.6,607.3 L194.2,609.2 L194.7,611.2 L195.3,613.1 L195.9,615.0 L196.5,616.9 L197.1,618.9 L197.7,620.8 L198.3,622.7 L199.0,624.6 L199.6,626.5 L200.3,628.4 L200.9,630.3 L201.6,632.2 L202.3,634.0 L203.0,635.9 L203.7,637.8 L204.5,639.7 L205.2,641.5 L205.9,643.4 L206.7,645.3 L207.5,647.1 L208.3,648.9 L209.1,650.8 L209.9,652.6 L210.7,654.4 L211.5,656.3 L212.3,658.1 L213.2,659.9 L214.1,661.7 L214.9,663.5 L215.8,665.3 L216.7,667.1 L217.6,668.8 L218.6,670.6 L219.5,672.4 L220.5,674.1 L221.4,675.9 L222.4,677.6 L223.4,679.3 L224.4,681.0 L225.4,682.8 L226.4,684.5 L227.5,686.2 L228.5,687.8 L229.6,689.5 L230.6,691.2 L231.7,692.9 L232.8,694.5 L233.9,696.2 L235.1,697.8 L236.2,699.4 L237.4,701.0 L238.5,702.6 L239.7,704.2 L240.9,705.8 L242.1,707.4 L243.3,708.9 L244.6,710.5 L245.8,712.0 L247.1,713.6 L248.3,715.1 L249.6,716.6 L250.9,718.1 L252.2,719.6 L253.5,721.0 L254.9,722.5 L256.2,724.0 L257.6,725.4 L259.0,726.8 L260.4,728.2 L261.8,729.6 L263.2,731.0 L264.6,732.4 L266.0,733.8 L267.5,735.2 L269.0,736.5 L270.4,737.8 L271.9,739.2 L273.4,740.5 L274.9,741.8 L276.4,743.1 L277.9,744.4 L279.5,745.6 L281.0,746.9 L282.6,748.1 L284.1,749.4 L285.7,750.6 L287.3,751.8 L288.9,753.0 L290.5,754.2 L292.1,755.4 L293.7,756.5 L295.3,757.7 L297.0,758.9 L298.6,760.0 L300.3,761.1 L301.9,762.2 L303.6,763.3 L305.3,764.4 L306.9,765.5 L308.6,766.6 L310.3,767.6 L312.0,768.7 L313.7,769.7 L315.4,770.7 L317.2,771.8 L318.9,772.8 L320.6,773.8 L322.3,774.8 L324.1,775.7 L325.8,776.7 L327.6,777.7 L329.3,778.6 L331.1,779.6 L332.9,780.5 L334.6,781.5 L336.4,782.4 L338.2,783.3 L340.0,784.2 L341.8,785.1 L343.6,786.0 L345.4,786.9 L347.2,787.8 L349.0,788.6 L350.8,789.5 L352.6,790.4 L354.4,791.2 L356.2,792.1 L358.0,792.9 L359.9,793.7 L361.7,794.6 L363.5,795.4 L365.3,796.2 L367.2,797.0 L369.0,797.8 L370.8,798.6 L372.7,799.4 L374.5,800.2 L376.3,801.0 L378.2,801.8 L380.0,802.6 L381.9,803.3 L383.7,804.1 L385.6,804.9 L387.4,805.6 L389.3,806.4 L391.1,807.1 L393.0,807.9 L394.8,808.6 L396.7,809.3 L398.6,810.1 L400.4,810.8 L402.3,811.5 L404.1,812.2 L406.0,812.9 L407.9,813.6 L409.8,814.3 L411.6,815.0 L413.5,815.7 L415.4,816.4 L417.3,817.1 L419.1,817.8 L421.0,818.4 L422.9,819.1 L424.8,819.8 L426.7,820.4 L428.6,821.1 L430.5,821.7 L432.3,822.4 L434.2,823.1 L436.1,823.7 L438.0,824.3 L439.9,825.0 L441.8,825.6 L443.7,826.2 L445.6,826.9 L447.5,827.5 L449.4,828.1 L451.3,828.7 L453.2,829.3 L455.1,830.0 L457.0,830.6 L458.9,831.2 L460.8,831.8 L462.7,832.4 L464.6,833.0 L466.6,833.6 L468.5,834.2 L470.4,834.8 L472.3,835.3 L474.2,835.9 L476.1,836.5 L478.0,837.1 L479.9,837.7 L481.9,838.2 L483.8,838.8 L485.7,839.4 L487.6,839.9 L489.5,840.5 L491.4,841.1 L493.4,841.6 L495.3,842.2 L497.2,842.8 L499.1,843.3 L501.0,843.9 L503.0,844.4 L504.9,845.0 L506.8,845.5 L508.7,846.1 L510.7,846.6 L512.6,847.2 L514.5,847.7 L516.4,848.2 L518.4,848.8 L520.3,849.3 L522.2,849.8 L524.1,850.4 L526.1,850.9 L528.0,851.4 L529.9,852.0 L531.8,852.5 L533.8,853.0 L535.7,853.6 L537.6,854.1 L539.5,854.6 L541.5,855.1 L543.4,855.7 L545.3,856.2 L547.3,856.7 L549.2,857.2 L551.1,857.7 L553.1,858.2 L555.0,858.8 L556.9,859.3 L558.8,859.8 L560.8,860.3 L562.7,860.8 L564.6,861.3 L566.6,861.8 L568.5,862.3 L570.4,862.8 L572.4,863.3 L574.3,863.8 L576.2,864.3 L578.2,864.8 L580.1,865.3 L582.0,865.8 L584.0,866.3 L585.9,866.8 L587.9,867.3 L589.8,867.8 L591.7,868.3 L593.7,868.8 L595.6,869.3 L597.5,869.8 L599.5,870.2 L601.4,870.7 L603.3,871.2 L605.3,871.7 L607.2,872.2 L609.2,872.7 L611.1,873.2 L613.0,873.6 L615.0,874.1 L616.9,874.6 L618.8,875.1 L620.8,875.6 L622.7,876.0 L624.7,876.5 L626.6,877.0 L628.5,877.5 L630.5,878.0 L632.4,878.4 L634.4,878.9 L636.3,879.4 L638.2,879.9 L640.2,880.3 L642.1,880.8 L644.1,881.3 L646.0,881.7 L648.0,882.2 L649.9,882.7 L651.8,883.2 L653.8,883.6 L655.7,884.1 L657.7,884.6 L659.6,885.0 L661.5,885.5 L663.5,886.0 L665.4,886.4 L667.4,886.9 L669.3,887.4 L671.3,887.8 L673.2,888.3 L675.1,888.8 L677.1,889.2 L679.0,889.7 L681.0,890.2 L682.9,890.6 L684.9,891.1 L686.8,891.6 L688.8,892.0 L690.7,892.5 L692.6,893.0 L694.6,893.4 L696.5,893.9 L698.5,894.3 L700.4,894.8 L702.4,895.3 L704.3,895.7 L706.2,896.2 L708.2,896.7 L710.1,897.1 L712.1,897.6 L714.0,898.1 L716.0,898.5 L717.9,899.0 L719.9,899.4 L721.8,899.9 L723.8,900.4 L725.7,900.8 L727.6,901.3 L729.6,901.8 L731.5,902.2 L733.5,902.7 L735.4,903.2 L737.4,903.6 L739.3,904.1 L741.3,904.5 L743.2,905.0 L745.1,905.5 L747.1,905.9 L749.0,906.4 L751.0,906.9 L752.9,907.3 L754.9,907.8 L756.8,908.3 L758.8,908.7 L760.7,909.2 L762.6,909.7 L764.6,910.2 L766.5,910.6 L768.5,911.1 L770.4,911.6 L772.4,912.0 L774.3,912.5 L776.3,913.0 L778.2,913.4 L780.2,913.9 L782.1,914.4 L784.0,914.9 L786.0,915.3 L787.9,915.8 L789.9,916.3 L791.8,916.7 L793.8,917.2 L795.7,917.7 L797.7,918.2 L799.6,918.6 L801.5,919.1 L803.5,919.6 L805.4,920.1 L807.4,920.5 L809.3,921.0 L811.3,921.5 L813.2,922.0 L815.2,922.4 L817.1,922.9 L819.0,923.4 L821.0,923.9 L822.9,924.3 L824.9,924.8 L826.8,925.3 L828.8,925.8 L830.7,926.2 L832.6,926.7 L834.6,927.2 L836.5,927.7 L838.5,928.2 L840.4,928.6 L842.4,929.1 L844.3,929.6 L846.2,930.1 L848.2,930.6 L850.1,931.0 L852.1,931.5 L854.0,932.0 L856.0,932.5 L857.9,933.0 L859.8,933.4 L861.8,933.9 L863.7,934.4 L865.7,934.9 L867.6,935.4 L869.6,935.8 L871.5,936.3 L873.4,936.8 L875.4,937.3 L877.3,937.8 L879.3,938.2 L881.2,938.7 L883.1,939.2 L885.1,939.7 L887.0,940.2 L889.0,940.7 L890.9,941.1 L892.9,941.6 L894.8,942.1 L896.7,942.6 L898.7,943.1 L900.6,943.6 L902.6,944.1 L904.5,944.5 L906.4,945.0 L908.4,945.5 L910.3,946.0 L912.3,946.5 L914.2,947.0 L916.1,947.5 L918.1,947.9 L920.0,948.4 L922.0,948.9 L923.9,949.4 L925.8,949.9 L927.8,950.4 L929.7,950.9 L931.7,951.3 L933.6,951.8 L935.5,952.3 L937.5,952.8 L939.4,953.3 L941.3,953.8 L943.3,954.3 L945.2,954.8 L947.2,955.3 L949.1,955.7 L951.0,956.2 L953.0,956.7 L954.9,957.2 L956.8,957.7 L958.8,958.2 L960.7,958.7 L962.7,959.2 L964.6,959.7 L966.5,960.1 L968.5,960.6 L970.4,961.1 L972.3,961.6 L974.3,962.1 L976.2,962.6 L978.1,963.1 L980.1,963.6 L982.0,964.1 L984.0,964.6 L985.9,965.1 L987.8,965.5 L989.8,966.0 L991.7,966.5 L993.6,967.0 L995.6,967.5 L997.5,968.0 L999.4,968.5 L1001.4,969.0 L1003.3,969.5 L1005.2,970.0 L1007.2,970.5 L1009.1,971.0 L1011.0,971.5 L1013.0,971.9 L1014.9,972.4 L1016.8,972.9 L1018.8,973.4 L1020.7,973.9 L1022.6,974.4 L1024.6,974.9 L1026.5,975.4 L1028.4,975.9 L1030.4,976.4 L1032.3,976.9 L1034.2,977.4 L1036.1,977.9 L1038.1,978.4 L1040.0,978.9 L1041.9,979.4 L1043.9,979.9 L1045.8,980.4 L1047.7,980.9 L1049.7,981.4 L1051.6,981.9 L1053.5,982.4 L1055.4,982.9 L1057.4,983.4 L1059.3,983.9 L1061.2,984.5 L1063.2,985.0 L1065.1,985.5 L1067.0,986.0 L1068.9,986.5 L1070.9,987.0 L1072.8,987.5 L1074.7,988.0 L1076.6,988.5 L1078.6,989.1 L1080.5,989.6 L1082.4,990.1 L1084.3,990.6 L1086.3,991.1 L1088.2,991.6 L1090.1,992.2 L1092.0,992.7 L1094.0,993.2 L1095.9,993.7 L1097.8,994.2 L1099.7,994.8 L1101.7,995.3 L1103.6,995.8 L1105.5,996.4 L1107.4,996.9 L1109.3,997.4 L1111.3,997.9 L1113.2,998.5 L1115.1,999.0 L1117.0,999.5 L1119.0,1000.1 L1120.9,1000.6 L1122.8,1001.2 L1124.7,1001.7 L1126.6,1002.2 L1128.6,1002.8 L1130.5,1003.3 L1132.4,1003.9 L1134.3,1004.4 L1136.2,1005.0 L1138.2,1005.5 L1140.1,1006.1 L1142.0,1006.6 L1143.9,1007.2 L1145.8,1007.7 L1147.7,1008.3 L1149.7,1008.8 L1151.6,1009.4 L1153.5,1010.0 L1155.4,1010.5 L1157.3,1011.1 L1159.2,1011.6 L1161.1,1012.2 L1163.1,1012.8 L1165.0,1013.3 L1166.9,1013.9 L1168.8,1014.5 L1170.7,1015.1 L1172.6,1015.6 L1174.5,1016.2 L1176.5,1016.8 L1178.4,1017.4 L1180.3,1018.0 L1182.2,1018.5 L1184.1,1019.1 L1186.0,1019.7 L1187.9,1020.3 L1189.8,1020.9 L1191.7,1021.5 L1193.7,1022.1 L1195.6,1022.7 L1197.5,1023.3 L1199.4,1023.9 L1201.3,1024.5 L1203.2,1025.1 L1205.1,1025.7 L1207.0,1026.3 L1208.9,1026.9 L1210.8,1027.5 L1212.7,1028.1 L1214.6,1028.8 L1216.6,1029.4 L1218.5,1030.0 L1220.4,1030.6 L1222.3,1031.3 L1224.2,1031.9 L1226.1,1032.5 L1228.0,1033.1 L1229.9,1033.8 L1231.8,1034.4 L1233.7,1035.0 L1235.6,1035.7 L1237.5,1036.3 L1239.4,1037.0 L1241.3,1037.6 L1243.2,1038.3 L1245.1,1038.9 L1247.0,1039.6 L1248.9,1040.2 L1250.8,1040.9 L1252.7,1041.5 L1254.6,1042.2 L1256.5,1042.9 L1258.4,1043.5 L1260.3,1044.2 L1262.2,1044.9 L1264.1,1045.5 L1266.0,1046.2 L1267.9,1046.9 L1269.8,1047.6 L1271.7,1048.3 L1273.6,1049.0 L1275.4,1049.7 L1277.3,1050.4 L1279.2,1051.1 L1281.1,1051.8 L1283.0,1052.5 L1284.9,1053.2 L1286.7,1053.9 L1288.6,1054.6 L1290.5,1055.4 L1292.4,1056.1 L1294.2,1056.9 L1296.1,1057.6 L1298.0,1058.3 L1299.8,1059.1 L1301.7,1059.9 L1303.5,1060.6 L1305.4,1061.4 L1307.3,1062.2 L1309.1,1063.0 L1310.9,1063.8 L1312.8,1064.6 L1314.6,1065.4 L1316.5,1066.2 L1318.3,1067.0 L1320.1,1067.8 L1321.9,1068.6 L1323.8,1069.5 L1325.6,1070.3 L1327.4,1071.2 L1329.2,1072.0 L1331.0,1072.9 L1332.8,1073.8 L1334.6,1074.7 L1336.4,1075.6 L1338.2,1076.5 L1340.0,1077.4 L1341.7,1078.3 L1343.5,1079.2 L1345.3,1080.1 L1347.0,1081.1 L1348.8,1082.0 L1350.5,1083.0 L1352.3,1084.0 L1354.0,1084.9 L1355.7,1085.9 L1357.5,1086.9 L1359.2,1087.9 L1360.9,1088.9 L1362.6,1090.0 L1364.3,1091.0 L1366.0,1092.1 L1367.7,1093.1 L1369.4,1094.2 L1371.1,1095.3 L1372.7,1096.4 L1374.4,1097.5 L1376.0,1098.6 L1377.7,1099.7 L1379.3,1100.8 L1380.9,1102.0 L1382.5,1103.2 L1384.1,1104.3 L1385.7,1105.5 L1387.3,1106.7 L1388.8,1108.0 L1390.3,1109.2 L1391.9,1110.4 L1393.4,1111.7 L1394.8,1113.0 L1396.3,1114.3 L1397.8,1115.6 L1399.2,1116.9 L1400.6,1118.3 L1402.0,1119.6 L1403.4,1121.0 L1404.7,1122.4 L1406.1,1123.8 L1407.4,1125.3 L1408.6,1126.7 L1409.9,1128.2 L1411.1,1129.7 L1412.4,1131.2 L1413.5,1132.7 L1414.7,1134.2 L1415.9,1135.8 L1417.0,1137.4 L1418.0,1139.0 L1419.1,1140.6 L1420.1,1142.3 L1421.1,1143.9 L1422.1,1145.6 L1423.0,1147.3 L1424.0,1149.0 L1424.8,1150.8 L1425.7,1152.6 L1426.5,1154.4 L1427.3,1156.2 L1428.0,1158.0 L1428.7,1159.9 L1429.4,1161.8 L1430.1,1163.7 L1430.7,1165.7 L1431.2,1167.6 L1431.8,1169.6" fill="none" stroke="#004f14" stroke-width="4.3" stroke-linejoin="round"/>
<path d="M172.7,47.0 L172.7,49.0 L172.7,51.0 L172.7,53.0 L172.7,55.0 L172.7,57.0 L172.7,59.0 L172.7,61.0 L172.7,63.0 L172.7,65.0 L172.7,67.0 L172.8,69.0 L172.8,71.0 L172.8,73.0 L172.8,75.0 L172.8,77.0 L172.8,79.0 L172.8,81.0 L172.8,83.0 L172.8,85.0 L172.8,87.1 L172.8,89.1 L172.8,91.1 L172.8,93.1 L172.8,95.1 L172.8,97.1 L172.9,99.1 L172.9,101.1 L172.9,103.1 L172.9,105.1 L172.9,107.1 L172.9,109.1 L172.9,111.1 L172.9,113.1 L172.9,115.1 L172.9,117.1 L172.9,119.1 L172.9,121.1 L172.9,123.1 L172.9,125.1 L172.9,127.0 L172.9,129.0 L172.9,131.0 L172.9,133.0 L172.9,135.0 L172.9,137.0 L172.9,139.0 L173.0,141.0 L173.0,143.0 L173.0,145.0 L173.0,147.0 L173.0,149.0 L173.0,151.0 L173.0,153.0 L173.0,155.0 L173.0,157.0 L173.0,159.0 L173.0,161.0 L173.0,163.0 L173.0,165.0 L173.0,167.0 L173.0,169.0 L173.0,171.0 L173.0,173.0 L173.0,175.0 L173.0,177.0 L173.0,179.0 L173.0,180.9 L173.0,182.9 L173.1,184.9 L173.1,186.9 L173.1,188.9 L173.1,190.9 L173.1,192.9 L173.1,194.9 L173.1,196.9 L173.1,198.9 L173.1,200.9 L173.1,202.9 L173.1,204.9 L173.1,206.9 L173.1,208.9 L173.1,210.9 L173.1,212.9 L173.1,214.9 L173.2,216.8 L173.2,218.8 L173.2,220.8 L173.2,222.8 L173.2,224.8 L173.2,226.8 L173.2,228.8 L173.2,230.8 L173.2,232.8 L173.2,234.8 L173.2,236.8 L173.3,238.8 L173.3,240.8 L173.3,242.8 L173.3,244.8 L173.3,246.7 L173.3,248.7 L173.3,250.7 L173.3,252.7 L173.3,254.7 L173.4,256.7 L173.4,258.7 L173.4,260.7 L173.4,262.7 L173.4,264.7 L173.4,266.7 L173.4,268.7 L173.4,270.7 L173.5,272.7 L173.5,274.7 L173.5,276.7 L173.5,278.6 L173.5,280.6 L173.5,282.6 L173.6,284.6 L173.6,286.6 L173.6,288.6 L173.6,290.6 L173.6,292.6 L173.7,294.6 L173.7,296.6 L173.7,298.6 L173.7,300.6 L173.7,302.6 L173.8,304.6 L173.8,306.6 L173.8,308.6 L173.8,310.6 L173.8,312.6 L173.9,314.6 L173.9,316.5 L173.9,318.5 L173.9,320.5 L174.0,322.5 L174.0,324.5 L174.0,326.5 L174.0,328.5 L174.1,330.5 L174.1,332.5 L174.1,334.5 L174.2,336.5 L174.2,338.5 L174.2,340.5 L174.2,342.5 L174.3,344.5 L174.3,346.5 L174.3,348.5 L174.4,350.5 L174.4,352.5 L174.4,354.5 L174.5,356.5 L174.5,358.5 L174.5,360.5 L174.6,362.5 L174.6,364.5 L174.7,366.5 L174.7,368.5 L174.7,370.5 L174.8,372.5 L174.8,374.5 L174.9,376.5 L174.9,378.5 L174.9,380.5 L175.0,382.5 L175.0,384.5 L175.1,386.5 L175.1,388.5 L175.1,390.5 L175.2,392.5 L175.2,394.5 L175.3,396.5 L175.3,398.5 L175.4,400.5 L175.4,402.5 L175.5,404.5 L175.5,406.5 L175.6,408.5 L175.6,410.5 L175.7,412.5 L175.7,414.5 L175.8,416.5 L175.8,418.5 L175.9,420.5 L176.0,422.5 L176.0,424.5 L176.1,426.5 L176.1,428.6 L176.2,430.6 L176.3,432.6 L176.3,434.6 L176.4,436.6 L176.4,438.6 L176.5,440.6 L176.6,442.6 L176.6,444.6 L176.7,446.6 L176.8,448.6 L176.8,450.6 L176.9,452.6 L177.0,454.7 L177.1,456.7 L177.1,458.7 L177.2,460.7 L177.3,462.7 L177.4,464.7 L177.5,466.7 L177.6,468.7 L177.6,470.7 L177.7,472.7 L177.8,474.7 L177.9,476.7 L178.1,478.7 L178.2,480.7 L178.3,482.7 L178.4,484.7 L178.5,486.7 L178.6,488.7 L178.8,490.7 L178.9,492.7 L179.0,494.7 L179.2,496.7 L179.3,498.7 L179.5,500.7 L179.7,502.7 L179.8,504.7 L180.0,506.7 L180.2,508.7 L180.4,510.7 L180.5,512.7 L180.7,514.6 L180.9,516.6 L181.2,518.6 L181.4,520.6 L181.6,522.6 L181.8,524.6 L182.0,526.5 L182.3,528.5 L182.5,530.5 L182.8,532.4 L183.1,534.4 L183.3,536.4 L183.6,538.4 L183.9,540.3 L184.2,542.3 L184.5,544.2 L184.8,546.2 L185.1,548.1 L185.5,550.1 L185.8,552.1 L186.1,554.0 L186.5,555.9 L186.9,557.9 L187.2,559.8 L187.6,561.8 L188.0,563.7 L188.4,565.6 L188.8,567.6 L189.3,569.5 L189.7,571.4 L190.1,573.4 L190.6,575.3 L191.1,577.2 L191.5,579.1 L192.0,581.0 L192.5,582.9 L193.0,584.8 L193.6,586.7 L194.1,588.6 L194.6,590.5 L195.2,592.4 L195.8,594.3 L196.3,596.2 L196.9,598.1 L197.5,600.0 L198.2,601.8 L198.8,603.7 L199.4,605.6 L200.1,607.5 L200.7,609.3 L201.4,611.2 L202.1,613.0 L202.8,614.9 L203.6,616.7 L204.3,618.6 L205.0,620.4 L205.8,622.3 L206.6,624.1 L207.4,625.9 L208.2,627.7 L209.0,629.6 L209.8,631.4 L210.7,633.2 L211.6,635.0 L212.4,636.8 L213.3,638.6 L214.3,640.4 L215.2,642.2 L216.1,644.0 L217.1,645.8 L218.1,647.5 L219.0,649.3 L220.1,651.1 L221.1,652.8 L222.1,654.6 L223.2,656.3 L224.2,658.1 L225.3,659.8 L226.4,661.5 L227.5,663.2 L228.6,664.9 L229.8,666.6 L230.9,668.3 L232.1,669.9 L233.2,671.6 L234.4,673.2 L235.6,674.9 L236.9,676.5 L238.1,678.1 L239.3,679.7 L240.6,681.3 L241.9,682.8 L243.2,684.4 L244.5,685.9 L245.8,687.4 L247.1,689.0 L248.4,690.4 L249.8,691.9 L251.1,693.4 L252.5,694.8 L253.9,696.3 L255.3,697.7 L256.7,699.1 L258.1,700.4 L259.6,701.8 L261.0,703.1 L262.5,704.5 L264.0,705.8 L265.4,707.1 L266.9,708.4 L268.4,709.6 L269.9,710.9 L271.5,712.2 L273.0,713.4 L274.5,714.6 L276.1,715.8 L277.7,717.0 L279.2,718.2 L280.8,719.4 L282.4,720.6 L284.0,721.7 L285.6,722.9 L287.2,724.0 L288.8,725.2 L290.4,726.3 L292.1,727.4 L293.7,728.5 L295.4,729.6 L297.0,730.7 L298.7,731.8 L300.3,732.9 L302.0,734.0 L303.7,735.0 L305.4,736.1 L307.1,737.2 L308.8,738.2 L310.5,739.3 L312.2,740.3 L313.9,741.4 L315.6,742.4 L317.3,743.4 L319.0,744.4 L320.8,745.5 L322.5,746.5 L324.3,747.5 L326.0,748.5 L327.7,749.5 L329.5,750.4 L331.2,751.4 L333.0,752.4 L334.8,753.3 L336.5,754.3 L338.3,755.3 L340.1,756.2 L341.8,757.1 L343.6,758.1 L345.4,759.0 L347.2,759.9 L348.9,760.8 L350.7,761.7 L352.5,762.6 L354.3,763.5 L356.1,764.4 L357.9,765.3 L359.6,766.2 L361.4,767.0 L363.2,767.9 L365.0,768.8 L366.8,769.6 L368.6,770.5 L370.4,771.3 L372.2,772.1 L374.0,773.0 L375.8,773.8 L377.6,774.6 L379.4,775.4 L381.3,776.3 L383.1,777.1 L384.9,777.9 L386.7,778.7 L388.5,779.5 L390.3,780.3 L392.2,781.1 L394.0,781.8 L395.8,782.6 L397.6,783.4 L399.5,784.2 L401.3,784.9 L403.1,785.7 L405.0,786.5 L406.8,787.2 L408.6,788.0 L410.5,788.7 L412.3,789.5 L414.2,790.2 L416.0,790.9 L417.8,791.7 L419.7,792.4 L421.5,793.1 L423.4,793.9 L425.2,794.6 L427.1,795.3 L428.9,796.0 L430.8,796.7 L432.7,797.4 L434.5,798.1 L436.4,798.9 L438.2,799.5 L440.1,800.2 L442.0,800.9 L443.8,801.6 L445.7,802.3 L447.6,803.0 L449.4,803.7 L451.3,804.4 L453.2,805.0 L455.1,805.7 L456.9,806.4 L458.8,807.0 L460.7,807.7 L462.6,808.4 L464.5,809.0 L466.3,809.7 L468.2,810.3 L470.1,811.0 L472.0,811.6 L473.9,812.2 L475.8,812.9 L477.7,813.5 L479.5,814.1 L481.4,814.8 L483.3,815.4 L485.2,816.0 L487.1,816.6 L489.0,817.3 L490.9,817.9 L492.8,818.5 L494.7,819.1 L496.6,819.7 L498.5,820.3 L500.4,820.9 L502.3,821.5 L504.2,822.1 L506.1,822.7 L508.0,823.3 L510.0,823.9 L511.9,824.5 L513.8,825.1 L515.7,825.7 L517.6,826.2 L519.5,826.8 L521.4,827.4 L523.3,828.0 L525.3,828.5 L527.2,829.1 L529.1,829.7 L531.0,830.2 L532.9,830.8 L534.8,831.3 L536.8,831.9 L538.7,832.5 L540.6,833.0 L542.5,833.6 L544.5,834.1 L546.4,834.7 L548.3,835.2 L550.2,835.7 L552.2,836.3 L554.1,836.8 L556.0,837.3 L557.9,837.9 L559.9,838.4 L561.8,838.9 L563.7,839.5 L565.7,840.0 L567.6,840.5 L569.5,841.0 L571.5,841.6 L573.4,842.1 L575.3,842.6 L577.3,843.1 L579.2,843.6 L581.1,844.1 L583.1,844.6 L585.0,845.1 L586.9,845.6 L588.9,846.1 L590.8,846.6 L592.8,847.1 L594.7,847.6 L596.6,848.1 L598.6,848.6 L600.5,849.1 L602.5,849.6 L604.4,850.1 L606.3,850.6 L608.3,851.1 L610.2,851.6 L612.2,852.1 L614.1,852.5 L616.0,853.0 L618.0,853.5 L619.9,854.0 L621.9,854.4 L623.8,854.9 L625.8,855.4 L627.7,855.9 L629.7,856.3 L631.6,856.8 L633.5,857.3 L635.5,857.7 L637.4,858.2 L639.4,858.7 L641.3,859.1 L643.3,859.6 L645.2,860.1 L647.2,860.5 L649.1,861.0 L651.0,861.4 L653.0,861.9 L654.9,862.3 L656.9,862.8 L658.8,863.3 L660.8,863.7 L662.7,864.2 L664.7,864.6 L666.6,865.1 L668.6,865.5 L670.5,865.9 L672.4,866.4 L674.4,866.8 L676.3,867.3 L678.3,867.7 L680.2,868.2 L682.2,868.6 L684.1,869.1 L686.1,869.5 L688.0,869.9 L690.0,870.4 L691.9,870.8 L693.8,871.3 L695.8,871.7 L697.7,872.1 L699.7,872.6 L701.6,873.0 L703.6,873.4 L705.5,873.9 L707.5,874.3 L709.4,874.8 L711.3,875.2 L713.3,875.6 L715.2,876.1 L717.2,876.5 L719.1,876.9 L721.1,877.4 L723.0,877.8 L725.0,878.2 L726.9,878.7 L728.9,879.1 L730.8,879.5 L732.7,880.0 L734.7,880.4 L736.6,880.8 L738.6,881.3 L740.5,881.7 L742.5,882.2 L744.4,882.6 L746.4,883.0 L748.3,883.5 L750.2,883.9 L752.2,884.3 L754.1,884.8 L756.1,885.2 L758.0,885.7 L760.0,886.1 L761.9,886.5 L763.9,887.0 L765.8,887.4 L767.8,887.9 L769.7,888.3 L771.6,888.8 L773.6,889.2 L775.5,889.7 L777.5,890.1 L779.4,890.6 L781.4,891.0 L783.3,891.5 L785.3,891.9 L787.2,892.4 L789.2,892.8 L791.1,893.3 L793.1,893.7 L795.0,894.2 L796.9,894.6 L798.9,895.1 L800.8,895.6 L802.8,896.0 L804.7,896.5 L806.7,897.0 L808.6,897.4 L810.6,897.9 L812.5,898.4 L814.4,898.8 L816.4,899.3 L818.3,899.8 L820.3,900.3 L822.2,900.7 L824.2,901.2 L826.1,901.7 L828.0,902.2 L830.0,902.6 L831.9,903.1 L833.9,903.6 L835.8,904.1 L837.7,904.6 L839.7,905.1 L841.6,905.6 L843.6,906.1 L845.5,906.6 L847.4,907.1 L849.4,907.6 L851.3,908.1 L853.2,908.6 L855.2,909.1 L857.1,909.6 L859.0,910.1 L860.9,910.6 L862.9,911.1 L864.8,911.6 L866.7,912.1 L868.7,912.6 L870.6,913.2 L872.5,913.7 L874.4,914.2 L876.4,914.7 L878.3,915.3 L880.2,915.8 L882.1,916.3 L884.0,916.9 L886.0,917.4 L887.9,917.9 L889.8,918.5 L891.7,919.0 L893.6,919.6 L895.5,920.1 L897.4,920.7 L899.4,921.2 L901.3,921.8 L903.2,922.4 L905.1,922.9 L907.0,923.5 L908.9,924.1 L910.8,924.7 L912.7,925.2 L914.6,925.8 L916.5,926.4 L918.4,927.0 L920.3,927.6 L922.2,928.2 L924.1,928.8 L926.0,929.4 L927.9,930.0 L929.8,930.6 L931.7,931.3 L933.6,931.9 L935.5,932.5 L937.3,933.1 L939.2,933.8 L941.1,934.4 L943.0,935.0 L944.9,935.7 L946.8,936.3 L948.7,936.9 L950.6,937.6 L952.4,938.2 L954.3,938.9 L956.2,939.5 L958.1,940.2 L960.0,940.8 L961.9,941.5 L963.8,942.1 L965.6,942.8 L967.5,943.4 L969.4,944.1 L971.3,944.7 L973.2,945.4 L975.1,946.0 L976.9,946.7 L978.8,947.3 L980.7,948.0 L982.6,948.6 L984.5,949.3 L986.4,950.0 L988.3,950.6 L990.1,951.3 L992.0,951.9 L993.9,952.6 L995.8,953.2 L997.7,953.9 L999.6,954.6 L1001.5,955.2 L1003.3,955.9 L1005.2,956.5 L1007.1,957.2 L1009.0,957.9 L1010.9,958.5 L1012.8,959.2 L1014.7,959.9 L1016.5,960.5 L1018.4,961.2 L1020.3,961.9 L1022.2,962.5 L1024.1,963.2 L1025.9,963.9 L1027.8,964.6 L1029.7,965.2 L1031.6,965.9 L1033.5,966.6 L1035.3,967.3 L1037.2,968.0 L1039.1,968.7 L1041.0,969.4 L1042.8,970.0 L1044.7,970.7 L1046.6,971.4 L1048.5,972.1 L1050.3,972.8 L1052.2,973.5 L1054.1,974.2 L1055.9,974.9 L1057.8,975.6 L1059.7,976.4 L1061.5,977.1 L1063.4,977.8 L1065.2,978.5 L1067.1,979.2 L1069.0,979.9 L1070.8,980.7 L1072.7,981.4 L1074.5,982.1 L1076.4,982.9 L1078.2,983.6 L1080.1,984.3 L1081.9,985.1 L1083.8,985.8 L1085.6,986.6 L1087.5,987.3 L1089.3,988.1 L1091.1,988.8 L1093.0,989.6 L1094.8,990.4 L1096.7,991.1 L1098.5,991.9 L1100.3,992.7 L1102.1,993.5 L1104.0,994.3 L1105.8,995.0 L1107.6,995.8 L1109.4,996.6 L1111.3,997.4 L1113.1,998.2 L1114.9,999.0 L1116.7,999.9 L1118.5,1000.7 L1120.3,1001.5 L1122.1,1002.3 L1123.9,1003.2 L1125.8,1004.0 L1127.6,1004.8 L1129.4,1005.7 L1131.1,1006.6 L1132.9,1007.4 L1134.7,1008.3 L1136.5,1009.2 L1138.3,1010.0 L1140.1,1010.9 L1141.9,1011.8 L1143.7,1012.7 L1145.4,1013.6 L1147.2,1014.6 L1149.0,1015.5 L1150.8,1016.4 L1152.5,1017.4 L1154.3,1018.3 L1156.1,1019.3 L1157.8,1020.2 L1159.6,1021.2 L1161.3,1022.2 L1163.1,1023.2 L1164.9,1024.2 L1166.6,1025.2 L1168.4,1026.2 L1170.1,1027.2 L1171.8,1028.2 L1173.6,1029.3 L1175.3,1030.3 L1177.0,1031.4 L1178.8,1032.5 L1180.5,1033.5 L1182.2,1034.6 L1183.9,1035.8 L1185.6,1036.9 L1187.2,1038.0 L1188.9,1039.2 L1190.5,1040.3 L1192.2,1041.5 L1193.8,1042.7 L1195.4,1043.9 L1197.0,1045.2 L1198.6,1046.4 L1200.1,1047.7 L1201.6,1049.0 L1203.1,1050.3 L1204.6,1051.6 L1206.1,1053.0 L1207.5,1054.3 L1209.0,1055.7 L1210.3,1057.1 L1211.7,1058.5 L1213.1,1060.0 L1214.4,1061.5 L1215.6,1063.0 L1216.9,1064.5 L1218.1,1066.1 L1219.3,1067.6 L1220.5,1069.2 L1221.6,1070.8 L1222.7,1072.5 L1223.7,1074.1 L1224.7,1075.8 L1225.7,1077.5 L1226.7,1079.3 L1227.6,1081.0 L1228.4,1082.8 L1229.3,1084.5 L1230.1,1086.3 L1230.8,1088.1 L1231.5,1090.0 L1232.2,1091.8 L1232.8,1093.6 L1233.4,1095.5 L1233.9,1097.4 L1234.4,1099.3 L1234.9,1101.1 L1235.3,1103.0 L1235.6,1104.9 L1235.9,1106.9 L1236.2,1108.8 L1236.4,1110.7 L1236.6,1112.6 L1236.7,1114.6 L1236.7,1116.5 L1236.7,1118.4 L1236.7,1120.4 L1236.6,1122.3 L1236.4,1124.3 L1236.2,1126.2 L1236.0,1128.1 L1235.7,1130.1 L1235.3,1132.0 L1234.9,1133.9 L1234.4,1135.9 L1233.9,1137.8 L1233.3,1139.7 L1232.7,1141.6 L1232.0,1143.4 L1231.2,1145.3 L1230.4,1147.2 L1229.6,1149.0 L1228.7,1150.8 L1227.7,1152.6 L1226.7,1154.4 L1225.6,1156.2 L1224.5,1158.0 L1223.4,1159.7 L1222.1,1161.4 L1220.9,1163.1 L1219.5,1164.8 L1218.1,1166.4 L1216.7,1168.0 L1215.2,1169.6" fill="none" stroke="#000000" stroke-width="4.3" stroke-linejoin="round"/>
<path d="M174.8,118.0 L174.8,120.0 L174.8,122.0 L174.8,124.0 L174.8,126.0 L174.9,128.0 L174.9,130.0 L174.9,132.0 L174.9,134.0 L174.9,136.0 L174.9,138.0 L174.9,140.0 L174.9,142.0 L174.9,144.0 L175.0,146.0 L175.0,148.0 L175.0,150.0 L175.0,152.0 L175.0,154.0 L175.0,156.0 L175.1,158.0 L175.1,160.0 L175.1,162.0 L175.1,164.0 L175.1,166.0 L175.2,168.0 L175.2,170.0 L175.2,172.0 L175.2,174.0 L175.2,176.0 L175.3,178.0 L175.3,180.0 L175.3,182.0 L175.3,184.0 L175.4,186.0 L175.4,188.0 L175.4,190.0 L175.4,192.0 L175.5,194.0 L175.5,196.0 L175.5,198.0 L175.5,200.0 L175.6,202.0 L175.6,204.0 L175.6,206.0 L175.6,208.0 L175.7,210.0 L175.7,212.0 L175.7,214.0 L175.7,216.0 L175.8,218.0 L175.8,220.0 L175.8,222.0 L175.9,224.0 L175.9,226.0 L175.9,228.0 L175.9,230.0 L176.0,232.0 L176.0,234.0 L176.0,236.0 L176.0,238.0 L176.1,240.0 L176.1,242.0 L176.1,244.0 L176.1,246.0 L176.2,248.0 L176.2,250.0 L176.2,252.0 L176.3,254.0 L176.3,256.0 L176.3,258.0 L176.3,260.0 L176.3,262.0 L176.4,264.0 L176.4,266.0 L176.4,268.0 L176.4,270.0 L176.5,272.0 L176.5,274.0 L176.5,276.0 L176.5,278.0 L176.5,280.0 L176.6,282.0 L176.6,284.0 L176.6,286.0 L176.6,288.0 L176.6,290.0 L176.7,292.0 L176.7,294.0 L176.7,296.0 L176.7,298.0 L176.7,300.0 L176.7,302.0 L176.8,304.0 L176.8,306.0 L176.8,308.0 L176.8,310.0 L176.8,312.0 L176.8,314.0 L176.8,316.0 L176.8,318.0 L176.8,320.0 L176.9,322.0 L176.9,324.0 L176.9,326.0 L176.9,328.0 L176.9,330.0 L176.9,332.0 L176.9,334.0 L177.0,336.0 L177.0,338.0 L177.0,340.0 L177.0,342.0 L177.0,344.0 L177.1,346.0 L177.1,348.0 L177.1,350.0 L177.1,352.0 L177.2,354.0 L177.2,356.0 L177.2,358.0 L177.2,360.0 L177.3,361.9 L177.3,363.9 L177.3,365.9 L177.4,367.9 L177.4,369.9 L177.5,371.9 L177.5,373.9 L177.6,375.9 L177.6,377.9 L177.7,379.9 L177.7,381.9 L177.8,383.9 L177.9,385.9 L177.9,387.9 L178.0,389.9 L178.1,391.9 L178.1,393.9 L178.2,395.9 L178.3,397.9 L178.4,399.9 L178.5,401.9 L178.6,403.9 L178.7,405.9 L178.8,407.9 L178.9,409.9 L179.0,411.9 L179.1,413.9 L179.2,415.9 L179.3,417.8 L179.4,419.8 L179.6,421.8 L179.7,423.8 L179.8,425.8 L180.0,427.8 L180.1,429.8 L180.3,431.8 L180.4,433.8 L180.6,435.8 L180.8,437.8 L180.9,439.8 L181.1,441.8 L181.3,443.8 L181.5,445.8 L181.7,447.8 L181.9,449.8 L182.1,451.7 L182.3,453.7 L182.5,455.7 L182.7,457.7 L183.0,459.7 L183.2,461.7 L183.4,463.7 L183.7,465.7 L183.9,467.7 L184.2,469.7 L184.5,471.7 L184.7,473.7 L185.0,475.6 L185.3,477.6 L185.6,479.6 L185.9,481.6 L186.2,483.6 L186.5,485.6 L186.9,487.6 L187.2,489.5 L187.6,491.5 L187.9,493.5 L188.3,495.5 L188.7,497.4 L189.0,499.4 L189.4,501.4 L189.8,503.3 L190.3,505.3 L190.7,507.2 L191.1,509.2 L191.6,511.1 L192.0,513.1 L192.5,515.0 L193.0,517.0 L193.5,518.9 L194.0,520.8 L194.5,522.8 L195.0,524.7 L195.6,526.6 L196.1,528.5 L196.7,530.4 L197.3,532.3 L197.8,534.2 L198.4,536.1 L199.1,538.0 L199.7,539.9 L200.3,541.8 L201.0,543.6 L201.7,545.5 L202.4,547.4 L203.1,549.2 L203.8,551.1 L204.5,552.9 L205.3,554.8 L206.1,556.6 L206.8,558.4 L207.6,560.2 L208.4,562.0 L209.3,563.8 L210.1,565.6 L211.0,567.4 L211.9,569.2 L212.7,571.0 L213.7,572.7 L214.6,574.5 L215.5,576.3 L216.5,578.0 L217.4,579.7 L218.4,581.5 L219.4,583.2 L220.4,584.9 L221.5,586.6 L222.5,588.3 L223.5,590.0 L224.6,591.7 L225.7,593.3 L226.8,595.0 L227.9,596.7 L229.0,598.3 L230.2,599.9 L231.3,601.6 L232.5,603.2 L233.6,604.8 L234.8,606.4 L236.0,608.0 L237.2,609.6 L238.4,611.1 L239.7,612.7 L240.9,614.3 L242.2,615.8 L243.5,617.3 L244.7,618.9 L246.0,620.4 L247.3,621.9 L248.7,623.4 L250.0,624.9 L251.3,626.3 L252.7,627.8 L254.0,629.3 L255.4,630.7 L256.8,632.1 L258.2,633.6 L259.6,635.0 L261.0,636.4 L262.4,637.8 L263.8,639.1 L265.3,640.5 L266.7,641.9 L268.2,643.2 L269.7,644.6 L271.1,645.9 L272.6,647.2 L274.1,648.5 L275.6,649.8 L277.1,651.1 L278.7,652.4 L280.2,653.7 L281.7,655.0 L283.3,656.2 L284.8,657.5 L286.4,658.7 L287.9,660.0 L289.5,661.2 L291.1,662.4 L292.7,663.6 L294.3,664.8 L295.9,666.0 L297.5,667.2 L299.1,668.4 L300.7,669.6 L302.4,670.7 L304.0,671.9 L305.6,673.0 L307.3,674.2 L308.9,675.3 L310.6,676.4 L312.2,677.6 L313.9,678.7 L315.6,679.8 L317.3,680.9 L318.9,682.0 L320.6,683.1 L322.3,684.2 L324.0,685.2 L325.7,686.3 L327.4,687.4 L329.1,688.4 L330.8,689.5 L332.5,690.6 L334.3,691.6 L336.0,692.6 L337.7,693.7 L339.4,694.7 L341.2,695.7 L342.9,696.7 L344.6,697.8 L346.4,698.8 L348.1,699.8 L349.9,700.8 L351.6,701.8 L353.4,702.8 L355.1,703.7 L356.9,704.7 L358.6,705.7 L360.4,706.7 L362.1,707.7 L363.9,708.6 L365.6,709.6 L367.4,710.5 L369.1,711.5 L370.9,712.5 L372.7,713.4 L374.4,714.3 L376.2,715.3 L378.0,716.2 L379.7,717.2 L381.5,718.1 L383.3,719.0 L385.0,719.9 L386.8,720.9 L388.6,721.8 L390.4,722.7 L392.1,723.6 L393.9,724.5 L395.7,725.4 L397.5,726.3 L399.3,727.2 L401.1,728.1 L402.8,728.9 L404.6,729.8 L406.4,730.7 L408.2,731.6 L410.0,732.4 L411.8,733.3 L413.6,734.1 L415.4,735.0 L417.2,735.8 L419.0,736.7 L420.8,737.5 L422.6,738.4 L424.4,739.2 L426.2,740.0 L428.0,740.9 L429.9,741.7 L431.7,742.5 L433.5,743.3 L435.3,744.1 L437.1,744.9 L438.9,745.7 L440.8,746.5 L442.6,747.3 L444.4,748.1 L446.2,748.9 L448.1,749.6 L449.9,750.4 L451.7,751.2 L453.6,751.9 L455.4,752.7 L457.3,753.5 L459.1,754.2 L460.9,755.0 L462.8,755.7 L464.6,756.4 L466.5,757.2 L468.3,757.9 L470.2,758.6 L472.1,759.4 L473.9,760.1 L475.8,760.8 L477.6,761.5 L479.5,762.2 L481.4,762.9 L483.2,763.6 L485.1,764.3 L487.0,765.0 L488.8,765.7 L490.7,766.4 L492.6,767.1 L494.5,767.7 L496.3,768.4 L498.2,769.1 L500.1,769.8 L502.0,770.4 L503.8,771.1 L505.7,771.8 L507.6,772.4 L509.5,773.1 L511.4,773.7 L513.3,774.4 L515.2,775.0 L517.0,775.7 L518.9,776.3 L520.8,777.0 L522.7,777.6 L524.6,778.3 L526.5,778.9 L528.4,779.5 L530.3,780.2 L532.2,780.8 L534.1,781.5 L536.0,782.1 L537.9,782.7 L539.8,783.4 L541.7,784.0 L543.6,784.6 L545.5,785.2 L547.3,785.9 L549.2,786.5 L551.1,787.1 L553.0,787.7 L554.9,788.4 L556.8,789.0 L558.7,789.6 L560.6,790.2 L562.5,790.9 L564.4,791.5 L566.3,792.1 L568.2,792.7 L570.1,793.3 L572.0,794.0 L573.9,794.6 L575.8,795.2 L577.7,795.8 L579.6,796.5 L581.5,797.1 L583.4,797.7 L585.3,798.3 L587.2,799.0 L589.1,799.6 L591.0,800.2 L592.9,800.9 L594.8,801.5 L596.7,802.1 L598.6,802.7 L600.5,803.4 L602.4,804.0 L604.3,804.6 L606.2,805.3 L608.1,805.9 L610.0,806.5 L611.9,807.2 L613.8,807.8 L615.7,808.4 L617.5,809.1 L619.4,809.7 L621.3,810.3 L623.2,811.0 L625.1,811.6 L627.0,812.2 L628.9,812.9 L630.8,813.5 L632.7,814.1 L634.6,814.8 L636.5,815.4 L638.4,816.0 L640.3,816.6 L642.2,817.3 L644.1,817.9 L646.0,818.5 L647.9,819.1 L649.8,819.8 L651.7,820.4 L653.6,821.0 L655.5,821.6 L657.4,822.2 L659.3,822.8 L661.2,823.5 L663.1,824.1 L665.0,824.7 L666.9,825.3 L668.8,825.9 L670.7,826.5 L672.6,827.1 L674.5,827.7 L676.4,828.3 L678.3,828.9 L680.2,829.5 L682.1,830.1 L684.1,830.7 L686.0,831.2 L687.9,831.8 L689.8,832.4 L691.7,833.0 L693.6,833.6 L695.5,834.2 L697.5,834.7 L699.4,835.3 L701.3,835.9 L703.2,836.4 L705.1,837.0 L707.1,837.6 L709.0,838.1 L710.9,838.7 L712.8,839.3 L714.8,839.8 L716.7,840.4 L718.6,841.0 L720.5,841.5 L722.5,842.1 L724.4,842.6 L726.3,843.2 L728.2,843.7 L730.2,844.3 L732.1,844.9 L734.0,845.4 L735.9,846.0 L737.9,846.5 L739.8,847.1 L741.7,847.6 L743.6,848.2 L745.6,848.7 L747.5,849.3 L749.4,849.8 L751.3,850.4 L753.3,850.9 L755.2,851.5 L757.1,852.1 L759.1,852.6 L761.0,853.2 L762.9,853.7 L764.8,854.3 L766.8,854.8 L768.7,855.4 L770.6,855.9 L772.5,856.5 L774.4,857.1 L776.4,857.6 L778.3,858.2 L780.2,858.7 L782.1,859.3 L784.0,859.9 L786.0,860.4 L787.9,861.0 L789.8,861.6 L791.7,862.1 L793.6,862.7 L795.5,863.3 L797.5,863.8 L799.4,864.4 L801.3,865.0 L803.2,865.6 L805.1,866.2 L807.0,866.7 L808.9,867.3 L810.8,867.9 L812.7,868.5 L814.6,869.1 L816.5,869.7 L818.4,870.3 L820.3,870.9 L822.2,871.5 L824.1,872.1 L826.0,872.7 L827.9,873.3 L829.8,873.9 L831.7,874.5 L833.6,875.2 L835.5,875.8 L837.4,876.4 L839.3,877.0 L841.2,877.6 L843.0,878.3 L844.9,878.9 L846.8,879.6 L848.7,880.2 L850.6,880.8 L852.4,881.5 L854.3,882.1 L856.2,882.8 L858.0,883.5 L859.9,884.1 L861.8,884.8 L863.6,885.5 L865.5,886.2 L867.4,886.8 L869.2,887.5 L871.1,888.2 L872.9,888.9 L874.8,889.6 L876.6,890.3 L878.5,891.0 L880.3,891.8 L882.2,892.5 L884.0,893.2 L885.8,894.0 L887.7,894.7 L889.5,895.5 L891.3,896.2 L893.2,897.0 L895.0,897.8 L896.8,898.6 L898.6,899.4 L900.4,900.2 L902.3,901.0 L904.1,901.8 L905.9,902.6 L907.7,903.5 L909.5,904.3 L911.3,905.2 L913.1,906.0 L914.9,906.9 L916.7,907.8 L918.4,908.7 L920.2,909.6 L922.0,910.5 L923.8,911.4 L925.6,912.3 L927.3,913.3 L929.1,914.2 L930.9,915.2 L932.6,916.2 L934.4,917.2 L936.2,918.2 L937.9,919.2 L939.7,920.2 L941.4,921.3 L943.1,922.3 L944.9,923.4 L946.6,924.5 L948.3,925.6 L950.1,926.7 L951.8,927.8 L953.5,928.9 L955.2,930.1 L956.9,931.2 L958.7,932.4 L960.3,933.6 L962.0,934.8 L963.7,936.0 L965.4,937.2 L967.1,938.5 L968.7,939.7 L970.4,941.0 L972.0,942.3 L973.6,943.6 L975.2,944.9 L976.8,946.2 L978.4,947.5 L980.0,948.9 L981.5,950.2 L983.1,951.6 L984.6,953.0 L986.1,954.4 L987.6,955.8 L989.1,957.2 L990.5,958.6 L991.9,960.1 L993.4,961.5 L994.7,963.0 L996.1,964.5 L997.5,966.0 L998.8,967.5 L1000.1,969.0 L1001.4,970.6 L1002.6,972.1 L1003.9,973.7 L1005.1,975.3 L1006.3,976.8 L1007.4,978.4 L1008.5,980.0 L1009.6,981.7 L1010.7,983.3 L1011.7,985.0 L1012.8,986.6 L1013.7,988.3 L1014.7,990.0 L1015.6,991.7 L1016.5,993.4 L1017.3,995.1 L1018.2,996.8 L1018.9,998.6 L1019.7,1000.3 L1020.4,1002.1 L1021.1,1003.9 L1021.7,1005.7 L1022.3,1007.5 L1022.9,1009.3 L1023.4,1011.1 L1023.9,1013.0 L1024.4,1014.8 L1024.8,1016.6 L1025.2,1018.5 L1025.6,1020.4 L1025.9,1022.2 L1026.2,1024.1 L1026.5,1026.0 L1026.8,1027.9 L1027.0,1029.8 L1027.1,1031.7 L1027.3,1033.6 L1027.4,1035.5 L1027.4,1037.5 L1027.5,1039.4 L1027.5,1041.3 L1027.5,1043.2 L1027.4,1045.2 L1027.3,1047.1 L1027.2,1049.0 L1027.0,1051.0 L1026.9,1052.9 L1026.7,1054.8 L1026.4,1056.8 L1026.1,1058.7 L1025.8,1060.7 L1025.5,1062.6 L1025.2,1064.5 L1024.8,1066.5 L1024.4,1068.4 L1023.9,1070.3 L1023.4,1072.2 L1022.9,1074.2 L1022.4,1076.1 L1021.8,1078.0 L1021.2,1079.9 L1020.6,1081.8 L1020.0,1083.7 L1019.3,1085.6 L1018.6,1087.5 L1017.9,1089.3 L1017.1,1091.2 L1016.4,1093.1 L1015.5,1094.9 L1014.7,1096.8 L1013.9,1098.6 L1013.0,1100.4 L1012.1,1102.3 L1011.1,1104.1 L1010.2,1105.9 L1009.2,1107.6 L1008.2,1109.4 L1007.1,1111.2 L1006.1,1112.9 L1005.0,1114.7 L1003.9,1116.4 L1002.7,1118.1 L1001.6,1119.8 L1000.4,1121.5 L999.3,1123.2 L998.1,1124.9 L996.8,1126.5 L995.6,1128.2 L994.3,1129.8 L993.1,1131.4 L991.8,1133.0 L990.5,1134.6 L989.2,1136.2 L987.9,1137.8 L986.5,1139.4 L985.2,1140.9 L983.9,1142.4 L982.5,1144.0 L981.1,1145.5 L979.7,1147.0 L978.4,1148.5 L977.0,1149.9 L975.6,1151.4 L974.2,1152.8 L972.8,1154.3 L971.4,1155.7 L969.9,1157.1 L968.5,1158.5 L967.1,1159.8 L965.7,1161.2 L964.3,1162.6 L962.9,1163.9 L961.4,1165.2 L960.0,1166.5 L958.6,1167.8 L957.2,1169.1" fill="none" stroke="#ffaa00" stroke-width="4.3" stroke-linejoin="round"/>
<path d="M180.2,47.5 L180.3,49.5 L180.4,51.5 L180.4,53.5 L180.5,55.5 L180.6,57.5 L180.6,59.5 L180.7,61.5 L180.8,63.5 L180.9,65.5 L181.0,67.5 L181.1,69.5 L181.2,71.5 L181.3,73.6 L181.4,75.6 L181.5,77.6 L181.6,79.6 L181.7,81.5 L181.8,83.5 L181.9,85.5 L182.0,87.5 L182.1,89.5 L182.2,91.5 L182.3,93.5 L182.4,95.5 L182.6,97.5 L182.7,99.5 L182.8,101.5 L183.0,103.5 L183.1,105.5 L183.2,107.5 L183.4,109.5 L183.5,111.5 L183.6,113.5 L183.8,115.4 L183.9,117.4 L184.1,119.4 L184.3,121.4 L184.4,123.4 L184.6,125.4 L184.7,127.4 L184.9,129.4 L185.1,131.4 L185.2,133.3 L185.4,135.3 L185.6,137.3 L185.8,139.3 L186.0,141.3 L186.1,143.3 L186.3,145.3 L186.5,147.2 L186.7,149.2 L186.9,151.2 L187.1,153.2 L187.3,155.2 L187.5,157.1 L187.7,159.1 L187.9,161.1 L188.2,163.1 L188.4,165.1 L188.6,167.1 L188.8,169.0 L189.1,171.0 L189.3,173.0 L189.5,175.0 L189.8,177.0 L190.0,178.9 L190.2,180.9 L190.5,182.9 L190.7,184.9 L191.0,186.9 L191.3,188.8 L191.5,190.8 L191.8,192.8 L192.0,194.8 L192.3,196.7 L192.6,198.7 L192.9,200.7 L193.1,202.7 L193.4,204.7 L193.7,206.6 L194.0,208.6 L194.3,210.6 L194.6,212.6 L194.9,214.5 L195.2,216.5 L195.5,218.5 L195.8,220.5 L196.2,222.4 L196.5,224.4 L196.8,226.4 L197.1,228.4 L197.5,230.4 L197.8,232.3 L198.1,234.3 L198.5,236.3 L198.8,238.3 L199.2,240.2 L199.5,242.2 L199.9,244.2 L200.2,246.1 L200.6,248.1 L201.0,250.1 L201.4,252.1 L201.7,254.0 L202.1,256.0 L202.5,258.0 L202.9,259.9 L203.3,261.9 L203.7,263.9 L204.1,265.8 L204.5,267.8 L204.9,269.7 L205.4,271.7 L205.8,273.7 L206.2,275.6 L206.7,277.6 L207.1,279.5 L207.5,281.5 L208.0,283.4 L208.5,285.4 L208.9,287.3 L209.4,289.3 L209.8,291.2 L210.3,293.2 L210.8,295.1 L211.3,297.1 L211.8,299.0 L212.3,301.0 L212.8,302.9 L213.3,304.8 L213.8,306.8 L214.3,308.7 L214.8,310.6 L215.4,312.6 L215.9,314.5 L216.4,316.4 L217.0,318.3 L217.5,320.3 L218.1,322.2 L218.7,324.1 L219.2,326.0 L219.8,327.9 L220.4,329.9 L221.0,331.8 L221.6,333.7 L222.2,335.6 L222.8,337.5 L223.4,339.4 L224.0,341.3 L224.6,343.2 L225.2,345.1 L225.9,347.0 L226.5,348.9 L227.2,350.8 L227.8,352.6 L228.5,354.5 L229.2,356.4 L229.8,358.3 L230.5,360.2 L231.2,362.0 L231.9,363.9 L232.6,365.8 L233.3,367.6 L234.0,369.5 L234.7,371.3 L235.5,373.2 L236.2,375.1 L236.9,376.9 L237.7,378.8 L238.4,380.6 L239.2,382.4 L240.0,384.3 L240.7,386.1 L241.5,387.9 L242.3,389.8 L243.1,391.6 L243.9,393.4 L244.7,395.2 L245.6,397.0 L246.4,398.9 L247.2,400.7 L248.1,402.5 L248.9,404.3 L249.8,406.1 L250.6,407.9 L251.5,409.7 L252.4,411.4 L253.3,413.2 L254.2,415.0 L255.1,416.8 L256.0,418.5 L256.9,420.3 L257.8,422.1 L258.8,423.8 L259.7,425.6 L260.6,427.4 L261.6,429.1 L262.6,430.8 L263.5,432.6 L264.5,434.3 L265.5,436.1 L266.5,437.8 L267.5,439.5 L268.5,441.2 L269.5,443.0 L270.5,444.7 L271.5,446.4 L272.6,448.1 L273.6,449.8 L274.7,451.5 L275.7,453.2 L276.8,454.9 L277.9,456.5 L278.9,458.2 L280.0,459.9 L281.1,461.6 L282.2,463.2 L283.3,464.9 L284.4,466.6 L285.5,468.2 L286.7,469.9 L287.8,471.5 L288.9,473.1 L290.1,474.8 L291.2,476.4 L292.4,478.0 L293.5,479.7 L294.7,481.3 L295.9,482.9 L297.1,484.5 L298.3,486.1 L299.5,487.7 L300.7,489.3 L301.9,490.9 L303.1,492.5 L304.3,494.0 L305.5,495.6 L306.8,497.2 L308.0,498.7 L309.3,500.3 L310.5,501.9 L311.8,503.4 L313.0,505.0 L314.3,506.5 L315.6,508.0 L316.9,509.6 L318.2,511.1 L319.5,512.6 L320.8,514.1 L322.1,515.6 L323.4,517.1 L324.7,518.6 L326.0,520.1 L327.4,521.6 L328.7,523.1 L330.1,524.6 L331.4,526.0 L332.8,527.5 L334.1,528.9 L335.5,530.4 L336.9,531.8 L338.3,533.3 L339.6,534.7 L341.0,536.2 L342.4,537.6 L343.8,539.0 L345.2,540.4 L346.7,541.8 L348.1,543.2 L349.5,544.6 L350.9,546.0 L352.4,547.4 L353.8,548.8 L355.3,550.2 L356.7,551.5 L358.2,552.9 L359.6,554.3 L361.1,555.6 L362.6,557.0 L364.0,558.3 L365.5,559.6 L367.0,561.0 L368.5,562.3 L370.0,563.6 L371.5,564.9 L373.0,566.2 L374.5,567.6 L376.0,568.9 L377.6,570.2 L379.1,571.4 L380.6,572.7 L382.1,574.0 L383.7,575.3 L385.2,576.6 L386.7,577.9 L388.3,579.1 L389.8,580.4 L391.4,581.6 L392.9,582.9 L394.5,584.2 L396.1,585.4 L397.6,586.7 L399.2,587.9 L400.8,589.1 L402.3,590.4 L403.9,591.6 L405.5,592.8 L407.1,594.1 L408.7,595.3 L410.3,596.5 L411.8,597.7 L413.4,599.0 L415.0,600.2 L416.6,601.4 L418.2,602.6 L419.8,603.8 L421.4,605.0 L423.0,606.2 L424.6,607.4 L426.2,608.6 L427.8,609.8 L429.4,611.0 L431.1,612.2 L432.7,613.4 L434.3,614.6 L435.9,615.7 L437.5,616.9 L439.1,618.1 L440.7,619.3 L442.4,620.5 L444.0,621.7 L445.6,622.8 L447.2,624.0 L448.8,625.2 L450.4,626.4 L452.1,627.5 L453.7,628.7 L455.3,629.9 L456.9,631.1 L458.5,632.2 L460.2,633.4 L461.8,634.6 L463.4,635.8 L465.0,636.9 L466.6,638.1 L468.3,639.3 L469.9,640.4 L471.5,641.6 L473.1,642.8 L474.7,644.0 L476.3,645.1 L477.9,646.3 L479.6,647.5 L481.2,648.7 L482.8,649.8 L484.4,651.0 L486.0,652.2 L487.6,653.4 L489.2,654.5 L490.8,655.7 L492.4,656.9 L494.0,658.1 L495.6,659.3 L497.2,660.4 L498.8,661.6 L500.4,662.8 L502.0,664.0 L503.6,665.2 L505.2,666.3 L506.8,667.5 L508.4,668.7 L510.0,669.9 L511.6,671.1 L513.2,672.3 L514.7,673.4 L516.3,674.6 L517.9,675.8 L519.5,677.0 L521.1,678.2 L522.7,679.4 L524.3,680.5 L525.9,681.7 L527.5,682.9 L529.1,684.1 L530.7,685.3 L532.3,686.4 L533.9,687.6 L535.5,688.8 L537.1,690.0 L538.7,691.2 L540.3,692.3 L541.9,693.5 L543.4,694.7 L545.0,695.9 L546.6,697.0 L548.3,698.2 L549.9,699.4 L551.5,700.6 L553.1,701.7 L554.7,702.9 L556.3,704.1 L557.9,705.3 L559.5,706.4 L561.1,707.6 L562.7,708.8 L564.3,709.9 L565.9,711.1 L567.6,712.3 L569.2,713.4 L570.8,714.6 L572.4,715.7 L574.0,716.9 L575.7,718.0 L577.3,719.2 L578.9,720.4 L580.6,721.5 L582.2,722.7 L583.8,723.8 L585.5,725.0 L587.1,726.1 L588.7,727.3 L590.4,728.4 L592.0,729.5 L593.7,730.7 L595.3,731.8 L597.0,732.9 L598.6,734.1 L600.3,735.2 L602.0,736.3 L603.6,737.5 L605.3,738.6 L607.0,739.7 L608.6,740.9 L610.3,742.0 L612.0,743.1 L613.7,744.2 L615.3,745.3 L617.0,746.5 L618.7,747.6 L620.4,748.7 L622.1,749.8 L623.8,750.9 L625.4,752.0 L627.1,753.2 L628.8,754.3 L630.5,755.4 L632.2,756.5 L633.9,757.6 L635.5,758.8 L637.2,759.9 L638.9,761.0 L640.6,762.1 L642.3,763.2 L644.0,764.4 L645.6,765.5 L647.3,766.6 L649.0,767.8 L650.7,768.9 L652.3,770.0 L654.0,771.2 L655.7,772.3 L657.3,773.4 L659.0,774.6 L660.7,775.7 L662.3,776.9 L664.0,778.0 L665.6,779.2 L667.3,780.4 L668.9,781.5 L670.6,782.7 L672.2,783.9 L673.8,785.0 L675.5,786.2 L677.1,787.4 L678.7,788.6 L680.3,789.8 L681.9,791.0 L683.5,792.2 L685.1,793.4 L686.7,794.6 L688.3,795.8 L689.9,797.0 L691.5,798.2 L693.1,799.4 L694.7,800.7 L696.2,801.9 L697.8,803.2 L699.3,804.4 L700.9,805.7 L702.4,806.9 L703.9,808.2 L705.5,809.5 L707.0,810.8 L708.5,812.1 L710.0,813.4 L711.5,814.7 L713.0,816.0 L714.4,817.3 L715.9,818.6 L717.4,819.9 L718.8,821.3 L720.3,822.6 L721.7,824.0 L723.1,825.3 L724.6,826.7 L726.0,828.1 L727.4,829.5 L728.8,830.9 L730.2,832.3 L731.5,833.7 L732.9,835.1 L734.2,836.6 L735.6,838.0 L736.9,839.4 L738.2,840.9 L739.5,842.4 L740.8,843.9 L742.1,845.3 L743.4,846.8 L744.7,848.3 L745.9,849.9 L747.2,851.4 L748.4,852.9 L749.6,854.5 L750.8,856.0 L752.0,857.6 L753.2,859.2 L754.4,860.8 L755.6,862.4 L756.7,864.0 L757.8,865.6 L759.0,867.3 L760.1,868.9 L761.1,870.6 L762.2,872.3 L763.3,874.0 L764.3,875.7 L765.3,877.4 L766.2,879.1 L767.2,880.8 L768.1,882.6 L769.0,884.3 L769.8,886.1 L770.6,887.9 L771.4,889.7 L772.1,891.5 L772.8,893.3 L773.4,895.1 L774.0,896.9 L774.5,898.8 L775.0,900.6 L775.4,902.5 L775.8,904.4 L776.2,906.3 L776.4,908.2 L776.7,910.1 L776.9,912.0 L777.0,913.9 L777.1,915.9 L777.1,917.8 L777.1,919.8 L777.1,921.7 L777.1,923.7 L776.9,925.6 L776.8,927.6 L776.6,929.6 L776.4,931.6 L776.2,933.5 L775.9,935.5 L775.6,937.5 L775.3,939.5 L775.0,941.5 L774.6,943.5 L774.2,945.4 L773.8,947.4 L773.3,949.4 L772.9,951.4 L772.4,953.4 L771.9,955.3 L771.4,957.3 L770.9,959.3 L770.4,961.3 L769.9,963.2 L769.3,965.2 L768.7,967.1 L768.2,969.1 L767.6,971.0 L767.0,973.0 L766.4,974.9 L765.8,976.8 L765.2,978.7 L764.5,980.7 L763.9,982.6 L763.2,984.5 L762.6,986.4 L761.9,988.3 L761.2,990.2 L760.5,992.1 L759.8,994.0 L759.1,995.9 L758.4,997.8 L757.7,999.7 L757.0,1001.5 L756.2,1003.4 L755.5,1005.3 L754.7,1007.2 L754.0,1009.0 L753.2,1010.9 L752.4,1012.7 L751.7,1014.6 L750.9,1016.4 L750.1,1018.3 L749.3,1020.1 L748.5,1022.0 L747.7,1023.8 L746.8,1025.6 L746.0,1027.5 L745.2,1029.3 L744.3,1031.1 L743.5,1032.9 L742.7,1034.8 L741.8,1036.6 L741.0,1038.4 L740.1,1040.2 L739.2,1042.0 L738.4,1043.8 L737.5,1045.6 L736.6,1047.4 L735.7,1049.2 L734.8,1051.0 L733.9,1052.7 L733.0,1054.5 L732.1,1056.3 L731.2,1058.1 L730.3,1059.9 L729.4,1061.6 L728.5,1063.4 L727.5,1065.2 L726.6,1066.9 L725.7,1068.7 L724.7,1070.4 L723.8,1072.2 L722.8,1073.9 L721.9,1075.7 L720.9,1077.4 L719.9,1079.2 L719.0,1080.9 L718.0,1082.6 L717.0,1084.4 L716.0,1086.1 L715.0,1087.8 L714.0,1089.5 L713.0,1091.3 L712.0,1093.0 L711.0,1094.7 L710.0,1096.4 L709.0,1098.1 L707.9,1099.8 L706.9,1101.5 L705.9,1103.2 L704.8,1104.9 L703.8,1106.6 L702.7,1108.3 L701.6,1110.0 L700.6,1111.6 L699.5,1113.3 L698.4,1115.0 L697.4,1116.7 L696.3,1118.3 L695.2,1120.0 L694.1,1121.7 L693.0,1123.3 L691.9,1125.0 L690.8,1126.6 L689.6,1128.3 L688.5,1129.9 L687.4,1131.6 L686.3,1133.2 L685.1,1134.9 L684.0,1136.5 L682.8,1138.1 L681.7,1139.8 L680.5,1141.4 L679.3,1143.0 L678.2,1144.6 L677.0,1146.3 L675.8,1147.9 L674.6,1149.5 L673.4,1151.1 L672.2,1152.7 L671.0,1154.3 L669.8,1155.9 L668.6,1157.5 L667.4,1159.1 L666.1,1160.7 L664.9,1162.3 L663.6,1163.9 L662.4,1165.5 L661.2,1167.0 L659.9,1168.6" fill="none" stroke="#bd0a2e" stroke-width="4.3" stroke-linejoin="round"/>
<path d="M187.3,47.5 L187.4,49.5 L187.5,51.5 L187.6,53.5 L187.7,55.5 L187.9,57.4 L188.0,59.4 L188.1,61.4 L188.3,63.4 L188.4,65.4 L188.6,67.4 L188.7,69.4 L188.9,71.4 L189.0,73.3 L189.2,75.3 L189.4,77.3 L189.5,79.3 L189.7,81.3 L189.9,83.3 L190.1,85.3 L190.2,87.3 L190.4,89.2 L190.6,91.2 L190.8,93.2 L191.0,95.2 L191.2,97.2 L191.5,99.2 L191.7,101.2 L191.9,103.2 L192.1,105.1 L192.4,107.1 L192.6,109.1 L192.8,111.1 L193.1,113.1 L193.3,115.1 L193.6,117.1 L193.8,119.0 L194.1,121.0 L194.3,123.0 L194.6,125.0 L194.9,127.0 L195.2,129.0 L195.4,130.9 L195.7,132.9 L196.0,134.9 L196.3,136.9 L196.6,138.9 L196.9,140.9 L197.2,142.8 L197.6,144.8 L197.9,146.8 L198.2,148.8 L198.5,150.7 L198.9,152.7 L199.2,154.7 L199.5,156.7 L199.9,158.6 L200.2,160.6 L200.6,162.6 L201.0,164.5 L201.3,166.5 L201.7,168.5 L202.1,170.5 L202.4,172.4 L202.8,174.4 L203.2,176.3 L203.6,178.3 L204.0,180.3 L204.4,182.2 L204.8,184.2 L205.2,186.2 L205.7,188.1 L206.1,190.1 L206.5,192.0 L207.0,194.0 L207.4,195.9 L207.8,197.9 L208.3,199.8 L208.7,201.8 L209.2,203.7 L209.7,205.7 L210.1,207.6 L210.6,209.6 L211.1,211.5 L211.6,213.4 L212.1,215.4 L212.6,217.3 L213.1,219.3 L213.6,221.2 L214.1,223.1 L214.6,225.1 L215.1,227.0 L215.6,228.9 L216.2,230.8 L216.7,232.8 L217.3,234.7 L217.8,236.6 L218.4,238.5 L218.9,240.4 L219.5,242.4 L220.1,244.3 L220.6,246.2 L221.2,248.1 L221.8,250.0 L222.4,251.9 L223.0,253.8 L223.6,255.7 L224.2,257.6 L224.8,259.5 L225.4,261.4 L226.0,263.3 L226.7,265.2 L227.3,267.1 L228.0,269.0 L228.6,270.9 L229.3,272.8 L229.9,274.6 L230.6,276.5 L231.2,278.4 L231.9,280.3 L232.6,282.1 L233.3,284.0 L234.0,285.9 L234.7,287.7 L235.4,289.6 L236.1,291.5 L236.8,293.3 L237.5,295.2 L238.3,297.0 L239.0,298.9 L239.7,300.7 L240.5,302.6 L241.2,304.4 L242.0,306.3 L242.7,308.1 L243.5,309.9 L244.3,311.8 L245.1,313.6 L245.9,315.4 L246.6,317.3 L247.4,319.1 L248.3,320.9 L249.1,322.7 L249.9,324.5 L250.7,326.4 L251.5,328.2 L252.4,330.0 L253.2,331.8 L254.1,333.6 L254.9,335.4 L255.8,337.2 L256.6,339.0 L257.5,340.7 L258.4,342.5 L259.3,344.3 L260.2,346.1 L261.1,347.9 L262.0,349.6 L262.9,351.4 L263.8,353.2 L264.7,354.9 L265.6,356.7 L266.6,358.5 L267.5,360.2 L268.5,362.0 L269.4,363.7 L270.4,365.5 L271.3,367.2 L272.3,368.9 L273.3,370.7 L274.3,372.4 L275.3,374.1 L276.3,375.9 L277.3,377.6 L278.3,379.3 L279.3,381.0 L280.3,382.7 L281.3,384.4 L282.4,386.1 L283.4,387.8 L284.5,389.5 L285.5,391.2 L286.6,392.9 L287.6,394.6 L288.7,396.3 L289.8,398.0 L290.9,399.7 L291.9,401.3 L293.0,403.0 L294.1,404.7 L295.2,406.3 L296.3,408.0 L297.5,409.6 L298.6,411.3 L299.7,413.0 L300.8,414.6 L302.0,416.2 L303.1,417.9 L304.2,419.5 L305.4,421.2 L306.5,422.8 L307.7,424.4 L308.9,426.0 L310.0,427.7 L311.2,429.3 L312.4,430.9 L313.6,432.5 L314.8,434.1 L316.0,435.7 L317.2,437.3 L318.4,438.9 L319.6,440.5 L320.8,442.1 L322.0,443.7 L323.2,445.3 L324.5,446.8 L325.7,448.4 L326.9,450.0 L328.2,451.5 L329.4,453.1 L330.7,454.7 L331.9,456.2 L333.2,457.8 L334.5,459.3 L335.7,460.9 L337.0,462.4 L338.3,464.0 L339.6,465.5 L340.9,467.0 L342.2,468.6 L343.4,470.1 L344.7,471.6 L346.1,473.1 L347.4,474.6 L348.7,476.1 L350.0,477.7 L351.3,479.2 L352.6,480.7 L354.0,482.2 L355.3,483.6 L356.6,485.1 L358.0,486.6 L359.3,488.1 L360.6,489.6 L362.0,491.1 L363.4,492.5 L364.7,494.0 L366.1,495.5 L367.4,496.9 L368.8,498.4 L370.2,499.8 L371.5,501.3 L372.9,502.7 L374.3,504.2 L375.7,505.6 L377.1,507.0 L378.5,508.5 L379.9,509.9 L381.3,511.3 L382.7,512.8 L384.1,514.2 L385.5,515.6 L386.9,517.0 L388.3,518.4 L389.7,519.8 L391.1,521.2 L392.6,522.6 L394.0,524.0 L395.4,525.4 L396.8,526.8 L398.3,528.2 L399.7,529.6 L401.2,531.0 L402.6,532.3 L404.0,533.7 L405.5,535.1 L406.9,536.5 L408.4,537.8 L409.9,539.2 L411.3,540.6 L412.8,541.9 L414.2,543.3 L415.7,544.6 L417.2,546.0 L418.6,547.3 L420.1,548.7 L421.6,550.0 L423.1,551.4 L424.5,552.7 L426.0,554.1 L427.5,555.4 L429.0,556.7 L430.5,558.1 L432.0,559.4 L433.5,560.7 L435.0,562.1 L436.5,563.4 L438.0,564.7 L439.5,566.0 L441.0,567.3 L442.5,568.7 L444.0,570.0 L445.5,571.3 L447.0,572.6 L448.5,573.9 L450.0,575.2 L451.5,576.5 L453.0,577.8 L454.5,579.1 L456.1,580.4 L457.6,581.7 L459.1,583.0 L460.6,584.3 L462.2,585.6 L463.7,586.9 L465.2,588.2 L466.7,589.5 L468.3,590.8 L469.8,592.0 L471.3,593.3 L472.9,594.6 L474.4,595.9 L475.9,597.2 L477.5,598.5 L479.0,599.7 L480.5,601.0 L482.1,602.3 L483.6,603.6 L485.2,604.9 L486.7,606.1 L488.2,607.4 L489.8,608.7 L491.3,610.0 L492.9,611.2 L494.4,612.5 L496.0,613.8 L497.5,615.1 L499.0,616.3 L500.6,617.6 L502.1,618.9 L503.7,620.2 L505.2,621.4 L506.8,622.7 L508.3,624.0 L509.8,625.3 L511.4,626.5 L512.9,627.8 L514.5,629.1 L516.0,630.4 L517.5,631.6 L519.1,632.9 L520.6,634.2 L522.1,635.5 L523.7,636.8 L525.2,638.0 L526.7,639.3 L528.3,640.6 L529.8,641.9 L531.3,643.2 L532.9,644.5 L534.4,645.8 L535.9,647.1 L537.4,648.4 L539.0,649.6 L540.5,650.9 L542.0,652.2 L543.5,653.5 L545.0,654.9 L546.5,656.2 L548.0,657.5 L549.6,658.8 L551.1,660.1 L552.6,661.4 L554.1,662.7 L555.6,664.0 L557.1,665.4 L558.6,666.7 L560.0,668.0 L561.5,669.3 L563.0,670.7 L564.5,672.0 L566.0,673.3 L567.5,674.7 L568.9,676.0 L570.4,677.4 L571.9,678.7 L573.3,680.1 L574.8,681.4 L576.3,682.8 L577.7,684.2 L579.2,685.5 L580.6,686.9 L582.1,688.3 L583.5,689.7 L585.0,691.0 L586.4,692.4 L587.8,693.8 L589.2,695.2 L590.7,696.6 L592.1,698.0 L593.5,699.4 L594.9,700.8 L596.3,702.3 L597.7,703.7 L599.1,705.1 L600.5,706.5 L601.9,708.0 L603.3,709.4 L604.7,710.8 L606.1,712.3 L607.4,713.7 L608.8,715.2 L610.1,716.6 L611.5,718.1 L612.9,719.6 L614.2,721.1 L615.5,722.5 L616.9,724.0 L618.2,725.5 L619.5,727.0 L620.9,728.5 L622.2,730.0 L623.5,731.5 L624.8,733.0 L626.1,734.5 L627.4,736.0 L628.7,737.6 L629.9,739.1 L631.2,740.6 L632.5,742.2 L633.7,743.7 L635.0,745.3 L636.2,746.8 L637.5,748.4 L638.7,750.0 L639.9,751.5 L641.2,753.1 L642.4,754.7 L643.6,756.3 L644.8,757.9 L646.0,759.5 L647.2,761.1 L648.3,762.7 L649.5,764.3 L650.7,765.9 L651.8,767.5 L653.0,769.1 L654.1,770.8 L655.3,772.4 L656.4,774.1 L657.5,775.7 L658.6,777.4 L659.7,779.0 L660.8,780.7 L661.9,782.4 L663.0,784.1 L664.1,785.7 L665.1,787.4 L666.2,789.1 L667.2,790.8 L668.3,792.5 L669.3,794.3 L670.3,796.0 L671.3,797.7 L672.4,799.4 L673.3,801.2 L674.3,802.9 L675.3,804.7 L676.3,806.4 L677.2,808.2 L678.2,809.9 L679.1,811.7 L680.1,813.5 L681.0,815.3 L681.9,817.1 L682.8,818.9 L683.7,820.7 L684.6,822.5 L685.5,824.3 L686.3,826.1 L687.2,828.0 L688.0,829.8 L688.9,831.6 L689.7,833.5 L690.5,835.3 L691.3,837.2 L692.1,839.1 L692.8,840.9 L693.6,842.8 L694.3,844.7 L695.1,846.6 L695.8,848.5 L696.5,850.4 L697.1,852.3 L697.8,854.2 L698.4,856.1 L699.0,858.0 L699.6,859.9 L700.1,861.8 L700.7,863.7 L701.2,865.7 L701.7,867.6 L702.1,869.5 L702.6,871.5 L703.0,873.4 L703.3,875.3 L703.7,877.3 L704.0,879.2 L704.3,881.2 L704.5,883.1 L704.8,885.0 L704.9,887.0 L705.1,888.9 L705.2,890.9 L705.3,892.8 L705.3,894.8 L705.3,896.7 L705.3,898.7 L705.3,900.6 L705.2,902.6 L705.0,904.5 L704.9,906.5 L704.7,908.4 L704.4,910.4 L704.2,912.3 L703.9,914.3 L703.6,916.2 L703.3,918.2 L702.9,920.1 L702.6,922.1 L702.2,924.0 L701.7,925.9 L701.3,927.9 L700.8,929.8 L700.4,931.7 L699.9,933.7 L699.3,935.6 L698.8,937.5 L698.3,939.4 L697.7,941.4 L697.2,943.3 L696.6,945.2 L696.0,947.1 L695.4,949.0 L694.8,950.9 L694.2,952.8 L693.5,954.7 L692.9,956.6 L692.2,958.5 L691.6,960.4 L690.9,962.3 L690.2,964.2 L689.5,966.0 L688.8,967.9 L688.1,969.8 L687.4,971.7 L686.6,973.5 L685.9,975.4 L685.1,977.3 L684.4,979.1 L683.6,981.0 L682.9,982.8 L682.1,984.7 L681.3,986.5 L680.5,988.4 L679.7,990.2 L678.9,992.1 L678.1,993.9 L677.3,995.8 L676.4,997.6 L675.6,999.4 L674.8,1001.3 L673.9,1003.1 L673.1,1004.9 L672.2,1006.7 L671.4,1008.6 L670.5,1010.4 L669.7,1012.2 L668.8,1014.0 L667.9,1015.8 L667.0,1017.6 L666.2,1019.5 L665.3,1021.3 L664.4,1023.1 L663.5,1024.9 L662.6,1026.7 L661.7,1028.5 L660.8,1030.3 L659.9,1032.1 L659.0,1033.9 L658.1,1035.7 L657.2,1037.4 L656.3,1039.2 L655.4,1041.0 L654.5,1042.8 L653.6,1044.6 L652.7,1046.4 L651.8,1048.2 L650.9,1049.9 L650.0,1051.7 L649.1,1053.5 L648.1,1055.3 L647.2,1057.0 L646.3,1058.8 L645.4,1060.6 L644.5,1062.4 L643.6,1064.1 L642.6,1065.9 L641.7,1067.7 L640.8,1069.4 L639.9,1071.2 L638.9,1073.0 L638.0,1074.7 L637.1,1076.5 L636.2,1078.3 L635.2,1080.0 L634.3,1081.8 L633.4,1083.5 L632.5,1085.3 L631.5,1087.1 L630.6,1088.8 L629.7,1090.6 L628.8,1092.3 L627.8,1094.1 L626.9,1095.9 L626.0,1097.6 L625.1,1099.4 L624.1,1101.2 L623.2,1102.9 L622.3,1104.7 L621.3,1106.4 L620.4,1108.2 L619.5,1110.0 L618.6,1111.7 L617.6,1113.5 L616.7,1115.2 L615.8,1117.0 L614.8,1118.8 L613.9,1120.5 L613.0,1122.3 L612.1,1124.1 L611.1,1125.8 L610.2,1127.6 L609.3,1129.4 L608.4,1131.1 L607.5,1132.9 L606.5,1134.7 L605.6,1136.4 L604.7,1138.2 L603.8,1140.0 L602.9,1141.8 L601.9,1143.5 L601.0,1145.3 L600.1,1147.1 L599.2,1148.9 L598.3,1150.7 L597.4,1152.4 L596.5,1154.2 L595.6,1156.0 L594.6,1157.8 L593.7,1159.6 L592.8,1161.4 L591.9,1163.2 L591.0,1165.0 L590.1,1166.8 L589.2,1168.6" fill="none" stroke="#ff0000" stroke-width="4.3" stroke-linejoin="round"/>
<path d="M182.6,47.5 L182.7,49.5 L182.9,51.5 L183.0,53.5 L183.1,55.4 L183.2,57.4 L183.4,59.4 L183.5,61.4 L183.6,63.3 L183.8,65.3 L183.9,67.3 L184.0,69.3 L184.2,71.3 L184.3,73.2 L184.5,75.2 L184.6,77.2 L184.7,79.2 L184.9,81.2 L185.0,83.2 L185.2,85.1 L185.3,87.1 L185.5,89.1 L185.6,91.1 L185.8,93.1 L185.9,95.1 L186.1,97.1 L186.3,99.1 L186.4,101.1 L186.6,103.0 L186.8,105.0 L186.9,107.0 L187.1,109.0 L187.3,111.0 L187.4,113.0 L187.6,115.0 L187.8,117.0 L188.0,119.0 L188.2,121.0 L188.4,123.0 L188.5,125.0 L188.7,126.9 L188.9,128.9 L189.1,130.9 L189.3,132.9 L189.5,134.9 L189.7,136.9 L189.9,138.9 L190.1,140.9 L190.4,142.9 L190.6,144.9 L190.8,146.9 L191.0,148.9 L191.2,150.9 L191.5,152.9 L191.7,154.8 L191.9,156.8 L192.2,158.8 L192.4,160.8 L192.6,162.8 L192.9,164.8 L193.1,166.8 L193.4,168.8 L193.6,170.8 L193.9,172.8 L194.2,174.7 L194.4,176.7 L194.7,178.7 L195.0,180.7 L195.2,182.7 L195.5,184.7 L195.8,186.7 L196.1,188.7 L196.4,190.6 L196.7,192.6 L197.0,194.6 L197.3,196.6 L197.6,198.6 L197.9,200.6 L198.2,202.5 L198.5,204.5 L198.8,206.5 L199.1,208.5 L199.5,210.4 L199.8,212.4 L200.1,214.4 L200.5,216.4 L200.8,218.3 L201.2,220.3 L201.5,222.3 L201.9,224.3 L202.2,226.2 L202.6,228.2 L203.0,230.2 L203.3,232.1 L203.7,234.1 L204.1,236.1 L204.5,238.0 L204.9,240.0 L205.3,241.9 L205.7,243.9 L206.1,245.9 L206.5,247.8 L206.9,249.8 L207.3,251.7 L207.7,253.7 L208.2,255.6 L208.6,257.6 L209.0,259.5 L209.5,261.5 L209.9,263.4 L210.4,265.4 L210.8,267.3 L211.3,269.2 L211.7,271.2 L212.2,273.1 L212.7,275.0 L213.2,277.0 L213.7,278.9 L214.2,280.8 L214.7,282.8 L215.2,284.7 L215.7,286.6 L216.2,288.6 L216.7,290.5 L217.2,292.4 L217.8,294.3 L218.3,296.2 L218.8,298.1 L219.4,300.1 L219.9,302.0 L220.5,303.9 L221.0,305.8 L221.6,307.7 L222.2,309.6 L222.8,311.5 L223.4,313.4 L223.9,315.3 L224.5,317.2 L225.2,319.1 L225.8,321.0 L226.4,322.9 L227.0,324.7 L227.6,326.6 L228.3,328.5 L228.9,330.4 L229.5,332.3 L230.2,334.1 L230.9,336.0 L231.5,337.9 L232.2,339.7 L232.9,341.6 L233.6,343.5 L234.3,345.3 L234.9,347.2 L235.7,349.0 L236.4,350.9 L237.1,352.7 L237.8,354.6 L238.5,356.4 L239.3,358.3 L240.0,360.1 L240.8,362.0 L241.5,363.8 L242.3,365.6 L243.1,367.4 L243.8,369.3 L244.6,371.1 L245.4,372.9 L246.2,374.7 L247.0,376.5 L247.8,378.4 L248.6,380.2 L249.5,382.0 L250.3,383.8 L251.1,385.6 L252.0,387.4 L252.8,389.2 L253.7,391.0 L254.6,392.7 L255.5,394.5 L256.3,396.3 L257.2,398.1 L258.1,399.9 L259.0,401.6 L260.0,403.4 L260.9,405.2 L261.8,406.9 L262.7,408.7 L263.7,410.5 L264.6,412.2 L265.6,414.0 L266.6,415.7 L267.5,417.4 L268.5,419.2 L269.5,420.9 L270.5,422.6 L271.5,424.4 L272.5,426.1 L273.5,427.8 L274.5,429.5 L275.5,431.3 L276.6,433.0 L277.6,434.7 L278.7,436.4 L279.7,438.1 L280.8,439.8 L281.8,441.5 L282.9,443.1 L284.0,444.8 L285.1,446.5 L286.1,448.2 L287.2,449.9 L288.3,451.5 L289.5,453.2 L290.6,454.9 L291.7,456.5 L292.8,458.2 L294.0,459.8 L295.1,461.5 L296.2,463.1 L297.4,464.7 L298.5,466.4 L299.7,468.0 L300.9,469.6 L302.0,471.2 L303.2,472.8 L304.4,474.5 L305.6,476.1 L306.8,477.7 L308.0,479.3 L309.2,480.9 L310.4,482.4 L311.6,484.0 L312.9,485.6 L314.1,487.2 L315.3,488.8 L316.6,490.3 L317.8,491.9 L319.1,493.4 L320.3,495.0 L321.6,496.5 L322.9,498.1 L324.1,499.6 L325.4,501.2 L326.7,502.7 L328.0,504.2 L329.3,505.7 L330.6,507.2 L331.9,508.7 L333.2,510.2 L334.5,511.7 L335.8,513.2 L337.1,514.7 L338.5,516.2 L339.8,517.7 L341.1,519.2 L342.5,520.6 L343.8,522.1 L345.2,523.6 L346.5,525.0 L347.9,526.5 L349.2,527.9 L350.6,529.3 L352.0,530.8 L353.4,532.2 L354.7,533.6 L356.1,535.0 L357.5,536.5 L358.9,537.9 L360.3,539.3 L361.7,540.7 L363.1,542.1 L364.5,543.4 L365.9,544.8 L367.4,546.2 L368.8,547.6 L370.2,548.9 L371.6,550.3 L373.1,551.7 L374.5,553.0 L375.9,554.4 L377.4,555.7 L378.8,557.1 L380.3,558.4 L381.7,559.8 L383.2,561.1 L384.6,562.4 L386.1,563.8 L387.6,565.1 L389.0,566.4 L390.5,567.7 L392.0,569.1 L393.5,570.4 L394.9,571.7 L396.4,573.0 L397.9,574.3 L399.4,575.6 L400.9,576.9 L402.4,578.3 L403.9,579.6 L405.4,580.9 L406.9,582.2 L408.4,583.5 L409.9,584.8 L411.4,586.1 L412.9,587.4 L414.4,588.7 L415.9,590.0 L417.4,591.3 L418.9,592.6 L420.4,593.9 L422.0,595.2 L423.5,596.5 L425.0,597.8 L426.5,599.1 L428.0,600.3 L429.6,601.6 L431.1,602.9 L432.6,604.2 L434.2,605.5 L435.7,606.8 L437.2,608.1 L438.8,609.4 L440.3,610.6 L441.8,611.9 L443.4,613.2 L444.9,614.5 L446.5,615.7 L448.0,617.0 L449.6,618.3 L451.1,619.5 L452.7,620.8 L454.2,622.1 L455.8,623.3 L457.4,624.6 L458.9,625.8 L460.5,627.1 L462.0,628.3 L463.6,629.6 L465.2,630.8 L466.7,632.1 L468.3,633.3 L469.9,634.5 L471.5,635.8 L473.0,637.0 L474.6,638.2 L476.2,639.4 L477.8,640.7 L479.3,641.9 L480.9,643.1 L482.5,644.3 L484.1,645.5 L485.7,646.7 L487.3,647.9 L488.9,649.1 L490.4,650.3 L492.0,651.5 L493.6,652.8 L495.2,654.0 L496.8,655.2 L498.4,656.4 L500.0,657.5 L501.6,658.7 L503.2,659.9 L504.8,661.1 L506.3,662.3 L507.9,663.5 L509.5,664.7 L511.1,665.9 L512.7,667.1 L514.3,668.3 L515.9,669.5 L517.5,670.7 L519.1,671.9 L520.7,673.1 L522.3,674.3 L523.9,675.5 L525.4,676.7 L527.0,677.9 L528.6,679.1 L530.2,680.3 L531.8,681.5 L533.4,682.7 L535.0,683.9 L536.6,685.2 L538.1,686.4 L539.7,687.6 L541.3,688.8 L542.9,690.0 L544.5,691.3 L546.0,692.5 L547.6,693.7 L549.2,694.9 L550.8,696.2 L552.3,697.4 L553.9,698.6 L555.5,699.9 L557.1,701.1 L558.6,702.4 L560.2,703.6 L561.8,704.8 L563.3,706.1 L564.9,707.3 L566.5,708.6 L568.0,709.8 L569.6,711.1 L571.2,712.3 L572.7,713.6 L574.3,714.8 L575.9,716.0 L577.4,717.3 L579.0,718.5 L580.5,719.8 L582.1,721.0 L583.7,722.3 L585.2,723.5 L586.8,724.8 L588.4,726.0 L589.9,727.3 L591.5,728.5 L593.0,729.8 L594.6,731.0 L596.2,732.2 L597.7,733.5 L599.3,734.7 L600.9,736.0 L602.4,737.2 L604.0,738.4 L605.6,739.7 L607.1,740.9 L608.7,742.1 L610.3,743.4 L611.8,744.6 L613.4,745.8 L614.9,747.0 L616.5,748.3 L618.1,749.5 L619.6,750.7 L621.2,752.0 L622.8,753.2 L624.3,754.4 L625.9,755.7 L627.4,756.9 L629.0,758.1 L630.6,759.4 L632.1,760.6 L633.7,761.8 L635.2,763.1 L636.8,764.3 L638.3,765.5 L639.9,766.8 L641.4,768.0 L643.0,769.3 L644.5,770.5 L646.1,771.8 L647.6,773.0 L649.1,774.3 L650.7,775.5 L652.2,776.8 L653.8,778.0 L655.3,779.3 L656.8,780.6 L658.3,781.8 L659.9,783.1 L661.4,784.4 L662.9,785.7 L664.4,786.9 L665.9,788.2 L667.4,789.5 L669.0,790.8 L670.5,792.1 L672.0,793.4 L673.5,794.7 L675.0,796.0 L676.5,797.4 L677.9,798.7 L679.4,800.0 L680.9,801.3 L682.4,802.7 L683.9,804.0 L685.3,805.4 L686.8,806.7 L688.3,808.1 L689.7,809.4 L691.2,810.8 L692.6,812.2 L694.1,813.6 L695.5,814.9 L697.0,816.3 L698.4,817.7 L699.8,819.1 L701.3,820.6 L702.7,822.0 L704.1,823.4 L705.5,824.8 L706.9,826.2 L708.3,827.7 L709.7,829.1 L711.1,830.6 L712.5,832.0 L713.9,833.5 L715.3,835.0 L716.7,836.4 L718.1,837.9 L719.4,839.4 L720.8,840.9 L722.1,842.4 L723.5,843.9 L724.8,845.4 L726.2,846.9 L727.5,848.4 L728.8,849.9 L730.2,851.4 L731.5,852.9 L732.8,854.5 L734.1,856.0 L735.4,857.6 L736.7,859.1 L738.0,860.6 L739.3,862.2 L740.5,863.8 L741.8,865.3 L743.0,866.9 L744.2,868.5 L745.4,870.1 L746.6,871.7 L747.7,873.3 L748.8,875.0 L749.8,876.6 L750.8,878.3 L751.8,880.0 L752.8,881.6 L753.6,883.4 L754.5,885.1 L755.3,886.8 L756.0,888.6 L756.7,890.3 L757.3,892.1 L757.9,893.9 L758.4,895.8 L758.9,897.6 L759.3,899.4 L759.7,901.3 L760.0,903.2 L760.2,905.1 L760.5,907.0 L760.7,908.9 L760.8,910.9 L760.9,912.8 L760.9,914.8 L761.0,916.7 L760.9,918.7 L760.9,920.7 L760.8,922.6 L760.7,924.6 L760.5,926.6 L760.3,928.6 L760.1,930.6 L759.9,932.6 L759.6,934.7 L759.3,936.7 L759.0,938.7 L758.7,940.7 L758.3,942.7 L757.9,944.7 L757.5,946.8 L757.1,948.8 L756.7,950.8 L756.2,952.8 L755.7,954.8 L755.3,956.8 L754.8,958.8 L754.3,960.8 L753.8,962.8 L753.3,964.7 L752.8,966.7 L752.2,968.7 L751.7,970.6 L751.2,972.6 L750.6,974.5 L750.0,976.5 L749.5,978.4 L748.9,980.3 L748.3,982.3 L747.7,984.2 L747.1,986.1 L746.5,988.0 L745.9,989.9 L745.2,991.8 L744.6,993.7 L744.0,995.6 L743.3,997.5 L742.6,999.4 L742.0,1001.2 L741.3,1003.1 L740.6,1005.0 L739.9,1006.8 L739.2,1008.7 L738.5,1010.6 L737.8,1012.4 L737.1,1014.3 L736.4,1016.1 L735.6,1018.0 L734.9,1019.8 L734.1,1021.6 L733.4,1023.5 L732.6,1025.3 L731.8,1027.1 L731.1,1028.9 L730.3,1030.7 L729.5,1032.6 L728.7,1034.4 L727.9,1036.2 L727.1,1038.0 L726.2,1039.8 L725.4,1041.6 L724.6,1043.4 L723.7,1045.2 L722.9,1047.0 L722.0,1048.8 L721.2,1050.6 L720.3,1052.4 L719.4,1054.1 L718.5,1055.9 L717.7,1057.7 L716.8,1059.5 L715.9,1061.3 L715.0,1063.0 L714.1,1064.8 L713.2,1066.6 L712.2,1068.4 L711.3,1070.1 L710.4,1071.9 L709.4,1073.6 L708.5,1075.4 L707.6,1077.2 L706.6,1078.9 L705.7,1080.7 L704.7,1082.4 L703.7,1084.2 L702.8,1085.9 L701.8,1087.7 L700.8,1089.4 L699.9,1091.2 L698.9,1092.9 L697.9,1094.7 L696.9,1096.4 L695.9,1098.2 L694.9,1099.9 L693.9,1101.6 L692.9,1103.4 L691.9,1105.1 L690.9,1106.8 L689.9,1108.6 L688.9,1110.3 L687.9,1112.0 L686.9,1113.8 L685.9,1115.5 L684.9,1117.2 L683.8,1118.9 L682.8,1120.7 L681.8,1122.4 L680.8,1124.1 L679.8,1125.8 L678.7,1127.5 L677.7,1129.3 L676.7,1131.0 L675.6,1132.7 L674.6,1134.4 L673.6,1136.1 L672.6,1137.8 L671.5,1139.6 L670.5,1141.3 L669.5,1143.0 L668.4,1144.7 L667.4,1146.4 L666.4,1148.1 L665.3,1149.8 L664.3,1151.5 L663.3,1153.2 L662.3,1154.9 L661.2,1156.6 L660.2,1158.3 L659.2,1160.1 L658.1,1161.8 L657.1,1163.5 L656.1,1165.2 L655.1,1166.9 L654.1,1168.6" fill="none" stroke="#0000ff" stroke-width="4.3" stroke-linejoin="round"/>
<path d="M174.8,118.0 L174.8,120.0 L174.8,122.0 L174.9,124.0 L174.9,126.0 L174.9,128.0 L174.9,130.0 L174.9,132.0 L174.9,134.0 L174.9,136.0 L175.0,138.0 L175.0,140.0 L175.0,142.0 L175.0,144.0 L175.0,146.0 L175.0,148.0 L175.1,150.0 L175.1,152.0 L175.1,154.0 L175.1,156.0 L175.1,158.0 L175.1,160.0 L175.2,162.0 L175.2,164.0 L175.2,166.0 L175.2,168.0 L175.2,170.0 L175.3,172.0 L175.3,174.0 L175.3,176.0 L175.3,178.0 L175.3,180.0 L175.4,182.0 L175.4,184.0 L175.4,186.0 L175.4,188.0 L175.4,190.0 L175.5,192.0 L175.5,194.0 L175.5,196.0 L175.5,198.0 L175.5,200.0 L175.6,202.0 L175.6,204.0 L175.6,206.0 L175.6,208.0 L175.7,210.0 L175.7,212.0 L175.7,214.0 L175.7,216.0 L175.7,218.0 L175.8,220.0 L175.8,222.0 L175.8,224.0 L175.8,226.0 L175.9,228.0 L175.9,230.0 L175.9,232.0 L175.9,234.0 L175.9,236.0 L176.0,238.0 L176.0,240.0 L176.0,242.0 L176.0,244.0 L176.1,246.0 L176.1,248.0 L176.1,250.0 L176.1,252.0 L176.2,254.0 L176.2,256.0 L176.2,258.0 L176.2,260.0 L176.2,262.0 L176.3,264.0 L176.3,266.0 L176.3,268.0 L176.3,270.0 L176.4,272.0 L176.4,274.0 L176.4,276.0 L176.4,278.0 L176.5,280.0 L176.5,282.0 L176.5,284.0 L176.5,286.0 L176.5,288.0 L176.6,290.0 L176.6,292.0 L176.6,294.0 L176.6,296.0 L176.7,298.0 L176.7,300.0 L176.7,302.0 L176.7,304.0 L176.7,306.0 L176.8,308.0 L176.8,310.0 L176.8,312.0 L176.8,314.0 L176.9,316.0 L176.9,318.0 L176.9,320.0 L176.9,322.0 L177.0,324.0 L177.0,326.0 L177.0,328.0 L177.0,330.0 L177.1,332.0 L177.1,334.0 L177.1,336.0 L177.2,338.0 L177.2,340.0 L177.2,342.0 L177.3,343.9 L177.3,345.9 L177.4,347.9 L177.4,349.9 L177.5,351.9 L177.5,353.9 L177.6,355.9 L177.6,357.9 L177.7,359.9 L177.7,361.9 L177.8,363.9 L177.9,365.9 L177.9,367.9 L178.0,369.9 L178.1,371.9 L178.2,373.9 L178.2,375.9 L178.3,377.9 L178.4,379.9 L178.5,381.8 L178.6,383.8 L178.7,385.8 L178.8,387.8 L178.9,389.8 L179.0,391.8 L179.1,393.8 L179.2,395.8 L179.4,397.8 L179.5,399.8 L179.6,401.8 L179.7,403.8 L179.9,405.7 L180.0,407.7 L180.2,409.7 L180.3,411.7 L180.5,413.7 L180.6,415.7 L180.8,417.7 L181.0,419.7 L181.1,421.7 L181.3,423.6 L181.5,425.6 L181.7,427.6 L181.9,429.6 L182.1,431.6 L182.3,433.6 L182.5,435.6 L182.8,437.5 L183.0,439.5 L183.2,441.5 L183.5,443.5 L183.7,445.5 L184.0,447.5 L184.2,449.4 L184.5,451.4 L184.8,453.4 L185.0,455.4 L185.3,457.4 L185.6,459.4 L185.9,461.3 L186.2,463.3 L186.5,465.3 L186.8,467.3 L187.2,469.3 L187.5,471.2 L187.9,473.2 L188.2,475.2 L188.6,477.2 L188.9,479.1 L189.3,481.1 L189.7,483.1 L190.1,485.1 L190.5,487.1 L190.9,489.0 L191.3,491.0 L191.7,493.0 L192.1,494.9 L192.6,496.9 L193.0,498.9 L193.5,500.8 L194.0,502.8 L194.4,504.8 L194.9,506.7 L195.4,508.7 L195.9,510.6 L196.5,512.6 L197.0,514.5 L197.5,516.4 L198.1,518.4 L198.6,520.3 L199.2,522.2 L199.8,524.2 L200.4,526.1 L201.0,528.0 L201.6,529.9 L202.3,531.8 L202.9,533.7 L203.6,535.6 L204.2,537.5 L204.9,539.3 L205.6,541.2 L206.3,543.1 L207.1,544.9 L207.8,546.8 L208.5,548.6 L209.3,550.5 L210.1,552.3 L210.9,554.1 L211.7,556.0 L212.5,557.8 L213.3,559.6 L214.2,561.4 L215.0,563.1 L215.9,564.9 L216.8,566.7 L217.7,568.4 L218.7,570.2 L219.6,571.9 L220.6,573.7 L221.5,575.4 L222.5,577.1 L223.5,578.8 L224.5,580.5 L225.6,582.2 L226.6,583.8 L227.7,585.5 L228.8,587.2 L229.9,588.8 L231.0,590.4 L232.1,592.1 L233.2,593.7 L234.4,595.3 L235.6,596.9 L236.7,598.5 L237.9,600.0 L239.1,601.6 L240.3,603.2 L241.6,604.7 L242.8,606.3 L244.1,607.8 L245.3,609.3 L246.6,610.8 L247.9,612.3 L249.2,613.8 L250.5,615.3 L251.8,616.8 L253.2,618.3 L254.5,619.7 L255.9,621.2 L257.2,622.6 L258.6,624.1 L260.0,625.5 L261.4,626.9 L262.8,628.3 L264.2,629.7 L265.7,631.1 L267.1,632.5 L268.5,633.9 L270.0,635.3 L271.4,636.6 L272.9,638.0 L274.4,639.4 L275.9,640.7 L277.3,642.0 L278.8,643.3 L280.4,644.7 L281.9,646.0 L283.4,647.3 L284.9,648.6 L286.4,649.9 L288.0,651.1 L289.5,652.4 L291.1,653.7 L292.6,654.9 L294.2,656.2 L295.7,657.4 L297.3,658.7 L298.9,659.9 L300.5,661.1 L302.1,662.3 L303.7,663.5 L305.3,664.7 L306.9,665.9 L308.5,667.1 L310.1,668.3 L311.7,669.5 L313.3,670.6 L314.9,671.8 L316.6,672.9 L318.2,674.1 L319.8,675.2 L321.5,676.4 L323.1,677.5 L324.8,678.6 L326.5,679.7 L328.1,680.8 L329.8,681.9 L331.5,683.0 L333.1,684.1 L334.8,685.2 L336.5,686.3 L338.2,687.4 L339.9,688.4 L341.6,689.5 L343.3,690.5 L345.0,691.6 L346.7,692.6 L348.4,693.7 L350.1,694.7 L351.8,695.7 L353.6,696.7 L355.3,697.8 L357.0,698.8 L358.7,699.8 L360.5,700.8 L362.2,701.8 L364.0,702.8 L365.7,703.7 L367.5,704.7 L369.2,705.7 L371.0,706.7 L372.7,707.6 L374.5,708.6 L376.3,709.5 L378.0,710.5 L379.8,711.4 L381.6,712.4 L383.3,713.3 L385.1,714.2 L386.9,715.1 L388.7,716.1 L390.5,717.0 L392.3,717.9 L394.1,718.8 L395.8,719.7 L397.6,720.6 L399.4,721.5 L401.2,722.4 L403.0,723.3 L404.8,724.1 L406.7,725.0 L408.5,725.9 L410.3,726.7 L412.1,727.6 L413.9,728.5 L415.7,729.3 L417.5,730.2 L419.4,731.0 L421.2,731.9 L423.0,732.7 L424.8,733.6 L426.7,734.4 L428.5,735.2 L430.3,736.1 L432.1,736.9 L434.0,737.7 L435.8,738.5 L437.6,739.3 L439.5,740.1 L441.3,740.9 L443.2,741.8 L445.0,742.6 L446.8,743.4 L448.7,744.1 L450.5,744.9 L452.4,745.7 L454.2,746.5 L456.0,747.3 L457.9,748.1 L459.7,748.9 L461.6,749.6 L463.4,750.4 L465.3,751.2 L467.1,752.0 L469.0,752.7 L470.8,753.5 L472.7,754.2 L474.5,755.0 L476.4,755.8 L478.2,756.5 L480.1,757.3 L481.9,758.0 L483.8,758.8 L485.6,759.5 L487.5,760.2 L489.3,761.0 L491.2,761.7 L493.0,762.5 L494.9,763.2 L496.8,763.9 L498.6,764.6 L500.5,765.4 L502.3,766.1 L504.2,766.8 L506.0,767.5 L507.9,768.3 L509.8,769.0 L511.6,769.7 L513.5,770.4 L515.3,771.1 L517.2,771.8 L519.1,772.5 L520.9,773.2 L522.8,773.9 L524.6,774.6 L526.5,775.3 L528.4,776.0 L530.2,776.7 L532.1,777.4 L534.0,778.1 L535.8,778.8 L537.7,779.5 L539.6,780.2 L541.4,780.8 L543.3,781.5 L545.2,782.2 L547.0,782.9 L548.9,783.6 L550.8,784.2 L552.6,784.9 L554.5,785.6 L556.4,786.3 L558.2,786.9 L560.1,787.6 L562.0,788.3 L563.9,788.9 L565.7,789.6 L567.6,790.3 L569.5,790.9 L571.4,791.6 L573.2,792.2 L575.1,792.9 L577.0,793.6 L578.9,794.2 L580.7,794.9 L582.6,795.5 L584.5,796.2 L586.4,796.8 L588.2,797.5 L590.1,798.1 L592.0,798.8 L593.9,799.4 L595.7,800.1 L597.6,800.7 L599.5,801.3 L601.4,802.0 L603.3,802.6 L605.1,803.3 L607.0,803.9 L608.9,804.5 L610.8,805.2 L612.7,805.8 L614.6,806.5 L616.4,807.1 L618.3,807.7 L620.2,808.4 L622.1,809.0 L624.0,809.6 L625.9,810.3 L627.7,810.9 L629.6,811.5 L631.5,812.1 L633.4,812.8 L635.3,813.4 L637.2,814.0 L639.1,814.7 L640.9,815.3 L642.8,815.9 L644.7,816.5 L646.6,817.2 L648.5,817.8 L650.4,818.4 L652.3,819.0 L654.2,819.7 L656.1,820.3 L657.9,820.9 L659.8,821.5 L661.7,822.1 L663.6,822.8 L665.5,823.4 L667.4,824.0 L669.3,824.6 L671.2,825.3 L673.1,825.9 L675.0,826.5 L676.9,827.1 L678.8,827.7 L680.6,828.4 L682.5,829.0 L684.4,829.6 L686.3,830.2 L688.2,830.8 L690.1,831.5 L692.0,832.1 L693.9,832.7 L695.8,833.3 L697.7,833.9 L699.6,834.6 L701.5,835.2 L703.4,835.8 L705.3,836.4 L707.2,837.0 L709.1,837.7 L711.0,838.3 L712.9,838.9 L714.8,839.5 L716.7,840.2 L718.6,840.8 L720.5,841.4 L722.4,842.0 L724.3,842.7 L726.2,843.3 L728.1,843.9 L730.0,844.5 L731.9,845.2 L733.8,845.8 L735.7,846.4 L737.6,847.0 L739.5,847.7 L741.4,848.3 L743.3,848.9 L745.2,849.6 L747.1,850.2 L749.0,850.8 L750.9,851.5 L752.8,852.1 L754.7,852.7 L756.6,853.4 L758.5,854.0 L760.4,854.6 L762.3,855.3 L764.2,855.9 L766.1,856.6 L768.0,857.2 L769.9,857.8 L771.9,858.5 L773.8,859.1 L775.7,859.8 L777.6,860.4 L779.5,861.1 L781.4,861.7 L783.3,862.4 L785.2,863.0 L787.1,863.7 L789.0,864.3 L790.9,865.0 L792.8,865.6 L794.7,866.3 L796.6,866.9 L798.6,867.6 L800.5,868.3 L802.4,868.9 L804.3,869.6 L806.2,870.2 L808.1,870.9 L810.0,871.6 L811.9,872.2 L813.8,872.9 L815.7,873.6 L817.6,874.3 L819.6,874.9 L821.5,875.6 L823.4,876.3 L825.3,877.0 L827.2,877.6 L829.1,878.3 L831.0,879.0 L832.9,879.7 L834.8,880.4 L836.7,881.1 L838.7,881.8 L840.6,882.5 L842.5,883.2 L844.4,883.9 L846.3,884.6 L848.2,885.3 L850.1,886.0 L852.0,886.7 L853.9,887.4 L855.8,888.1 L857.7,888.9 L859.6,889.6 L861.5,890.3 L863.3,891.1 L865.2,891.8 L867.1,892.6 L869.0,893.3 L870.9,894.1 L872.7,894.8 L874.6,895.6 L876.5,896.4 L878.3,897.2 L880.2,898.0 L882.0,898.7 L883.9,899.5 L885.7,900.3 L887.5,901.2 L889.4,902.0 L891.2,902.8 L893.0,903.6 L894.8,904.5 L896.7,905.3 L898.5,906.2 L900.3,907.0 L902.1,907.9 L903.8,908.8 L905.6,909.7 L907.4,910.6 L909.2,911.5 L910.9,912.4 L912.7,913.3 L914.4,914.3 L916.2,915.2 L917.9,916.1 L919.6,917.1 L921.4,918.1 L923.1,919.0 L924.8,920.0 L926.5,921.0 L928.2,922.0 L929.8,923.1 L931.5,924.1 L933.2,925.1 L934.8,926.2 L936.5,927.2 L938.1,928.3 L939.7,929.4 L941.3,930.5 L942.9,931.6 L944.5,932.7 L946.1,933.9 L947.7,935.0 L949.3,936.2 L950.8,937.3 L952.4,938.5 L953.9,939.7 L955.4,940.9 L956.9,942.1 L958.4,943.4 L959.9,944.6 L961.4,945.9 L962.8,947.2 L964.3,948.4 L965.7,949.8 L967.2,951.1 L968.6,952.4 L970.0,953.7 L971.4,955.1 L972.8,956.5 L974.1,957.9 L975.5,959.3 L976.8,960.7 L978.1,962.1 L979.5,963.6 L980.8,965.1 L982.0,966.6 L983.3,968.1 L984.6,969.6 L985.8,971.1 L987.0,972.7 L988.3,974.2 L989.5,975.8 L990.6,977.4 L991.8,979.0 L993.0,980.7 L994.1,982.3 L995.2,984.0 L996.3,985.7 L997.4,987.4 L998.5,989.1 L999.5,990.8 L1000.5,992.6 L1001.6,994.4 L1002.5,996.1 L1003.5,997.9 L1004.4,999.7 L1005.3,1001.5 L1006.2,1003.4 L1007.1,1005.2 L1007.9,1007.0 L1008.8,1008.9 L1009.5,1010.8 L1010.3,1012.6 L1011.0,1014.5 L1011.7,1016.4 L1012.4,1018.3 L1013.0,1020.2 L1013.6,1022.1 L1014.2,1024.0 L1014.7,1026.0 L1015.3,1027.9 L1015.7,1029.8 L1016.2,1031.8 L1016.6,1033.7 L1016.9,1035.7 L1017.2,1037.6 L1017.5,1039.6 L1017.8,1041.5 L1018.0,1043.5 L1018.2,1045.5 L1018.3,1047.4 L1018.4,1049.4 L1018.4,1051.3 L1018.4,1053.3 L1018.4,1055.3 L1018.3,1057.2 L1018.2,1059.2 L1018.0,1061.1 L1017.9,1063.1 L1017.6,1065.0 L1017.4,1067.0 L1017.1,1068.9 L1016.7,1070.9 L1016.3,1072.8 L1015.9,1074.8 L1015.5,1076.7 L1015.0,1078.6 L1014.5,1080.5 L1014.0,1082.5 L1013.4,1084.4 L1012.8,1086.3 L1012.1,1088.2 L1011.5,1090.1 L1010.8,1092.0 L1010.0,1093.8 L1009.3,1095.7 L1008.5,1097.6 L1007.7,1099.4 L1006.8,1101.3 L1006.0,1103.1 L1005.1,1105.0 L1004.2,1106.8 L1003.2,1108.6 L1002.3,1110.4 L1001.3,1112.2 L1000.3,1114.0 L999.3,1115.8 L998.2,1117.6 L997.2,1119.3 L996.1,1121.1 L995.0,1122.9 L993.9,1124.6 L992.7,1126.3 L991.6,1128.0 L990.5,1129.8 L989.3,1131.5 L988.1,1133.2 L986.9,1134.8 L985.8,1136.5 L984.6,1138.2 L983.4,1139.8 L982.1,1141.5 L980.9,1143.1 L979.7,1144.7 L978.5,1146.3 L977.2,1147.9 L976.0,1149.5 L974.8,1151.1 L973.5,1152.7 L972.3,1154.2 L971.1,1155.8 L969.8,1157.3 L968.6,1158.8 L967.4,1160.3 L966.2,1161.8 L965.0,1163.3 L963.8,1164.8 L962.6,1166.3 L961.4,1167.7 L960.2,1169.2" fill="none" stroke="#00ffff" stroke-width="4.3" stroke-linejoin="round"/>
<line x1="171.5" y1="46.7" x2="1473" y2="46.7" stroke="#808080" stroke-width="2.6"/>
<line x1="1471.8" y1="45.4" x2="1471.8" y2="1172" stroke="#939393" stroke-width="2.6"/>
<line x1="171.5" y1="1170.5" x2="1473" y2="1170.5" stroke="#858585" stroke-width="2.8"/>
<line x1="172.7" y1="500" x2="172.7" y2="1172" stroke="#888888" stroke-width="2.6"/>
<rect x="1165.6" y="65.7" width="286.9" height="575.7" fill="#ffffff" stroke="#adadad" stroke-width="2.8"/>
<line x1="1169.5" y1="99.6" x2="1228.7" y2="99.6" stroke="#00ff00" stroke-width="4.2"/>
<text transform="translate(1231,119.8) scale(1,1.02)" font-family='"Liberation Sans", Arial, Helvetica, sans-serif' font-weight="bold" font-size="50.5" fill="#000000">-1.05GHz</text>
<line x1="1169.5" y1="163.1" x2="1228.7" y2="163.1" stroke="#000000" stroke-width="4.2"/>
<text transform="translate(1231,183.2) scale(1,1.02)" font-family='"Liberation Sans", Arial, Helvetica, sans-serif' font-weight="bold" font-size="50.5" fill="#000000">-0.75GHz</text>
<line x1="1169.5" y1="226.5" x2="1228.7" y2="226.5" stroke="#ffaa00" stroke-width="4.2"/>
<text transform="translate(1231,246.7) scale(1,1.02)" font-family='"Liberation Sans", Arial, Helvetica, sans-serif' font-weight="bold" font-size="50.5" fill="#000000">-0.45GHz</text>
<line x1="1169.5" y1="290.0" x2="1228.7" y2="290.0" stroke="#bd0a2e" stroke-width="4.2"/>
<text transform="translate(1231,310.2) scale(1,1.02)" font-family='"Liberation Sans", Arial, Helvetica, sans-serif' font-weight="bold" font-size="50.5" fill="#000000">-0.15GHz</text>
<line x1="1169.5" y1="353.4" x2="1228.7" y2="353.4" stroke="#ff0000" stroke-width="4.2"/>
<text transform="translate(1231,373.6) scale(1,1.02)" font-family='"Liberation Sans", Arial, Helvetica, sans-serif' font-weight="bold" font-size="50.5" fill="#000000">0</text>
<line x1="1169.5" y1="416.9" x2="1228.7" y2="416.9" stroke="#0000ff" stroke-width="4.2"/>
<text transform="translate(1231,437.1) scale(1,1.02)" font-family='"Liberation Sans", Arial, Helvetica, sans-serif' font-weight="bold" font-size="50.5" fill="#000000">0.15GHz</text>
<line x1="1169.5" y1="480.3" x2="1228.7" y2="480.3" stroke="#00ffff" stroke-width="4.2"/>
<text transform="translate(1231,500.5) scale(1,1.02)" font-family='"Liberation Sans", Arial, Helvetica, sans-serif' font-weight="bold" font-size="50.5" fill="#000000">0.45GHz</text>
<line x1="1169.5" y1="543.8" x2="1228.7" y2="543.8" stroke="#ff00ff" stroke-width="4.2"/>
<text transform="translate(1231,564.0) scale(1,1.02)" font-family='"Liberation Sans", Arial, Helvetica, sans-serif' font-weight="bold" font-size="50.5" fill="#000000">0.75GHz</text>
<line x1="1169.5" y1="607.2" x2="1228.7" y2="607.2" stroke="#004f14" stroke-width="4.2"/>
<text transform="translate(1231,627.4) scale(1,1.02)" font-family='"Liberation Sans", Arial, Helvetica, sans-serif' font-weight="bold" font-size="50.5" fill="#000000">1.05GHz</text>
<text transform="translate(155.5,68.9) scale(1,1.04)" text-anchor="end" font-family='"Liberation Sans", Arial, Helvetica, sans-serif' font-weight="bold" font-size="55.5" fill="#262626">45</text>
<text transform="translate(155.5,319.0) scale(1,1.04)" text-anchor="end" font-family='"Liberation Sans", Arial, Helvetica, sans-serif' font-weight="bold" font-size="55.5" fill="#262626">35</text>
<text transform="translate(155.5,569.5) scale(1,1.04)" text-anchor="end" font-family='"Liberation Sans", Arial, Helvetica, sans-serif' font-weight="bold" font-size="55.5" fill="#262626">25</text>
<text transform="translate(155.5,818.5) scale(1,1.04)" text-anchor="end" font-family='"Liberation Sans", Arial, Helvetica, sans-serif' font-weight="bold" font-size="55.5" fill="#262626">15</text>
<text transform="translate(155.5,1069.3) scale(1,1.04)" text-anchor="end" font-family='"Liberation Sans", Arial, Helvetica, sans-serif' font-weight="bold" font-size="55.5" fill="#262626">5</text>
<text transform="translate(172.9,1243.8) scale(1,1.04)" text-anchor="middle" font-family='"Liberation Sans", Arial, Helvetica, sans-serif' font-weight="bold" font-size="55.5" fill="#262626">0</text>
<text transform="translate(431.5,1243.8) scale(1,1.04)" text-anchor="middle" font-family='"Liberation Sans", Arial, Helvetica, sans-serif' font-weight="bold" font-size="55.5" fill="#262626">0.002</text>
<text transform="translate(692.2,1243.8) scale(1,1.04)" text-anchor="middle" font-family='"Liberation Sans", Arial, Helvetica, sans-serif' font-weight="bold" font-size="55.5" fill="#262626">0.004</text>
<text transform="translate(951.5,1243.8) scale(1,1.04)" text-anchor="middle" font-family='"Liberation Sans", Arial, Helvetica, sans-serif' font-weight="bold" font-size="55.5" fill="#262626">0.006</text>
<text transform="translate(1211.3,1243.8) scale(1,1.04)" text-anchor="middle" font-family='"Liberation Sans", Arial, Helvetica, sans-serif' font-weight="bold" font-size="55.5" fill="#262626">0.008</text>
<text transform="translate(1467.9,1243.8) scale(1,1.04)" text-anchor="middle" font-family='"Liberation Sans", Arial, Helvetica, sans-serif' font-weight="bold" font-size="55.5" fill="#262626">0.01</text>
<text transform="translate(821.6,1320.4) scale(0.984,1)" x="0" y="0" text-anchor="middle" font-family='"Liberation Sans", Arial, Helvetica, sans-serif' font-weight="bold" font-size="62.5" fill="#262626">Normalized Weighting Function</text>
<text transform="translate(73.9,609.3) rotate(-90) scale(0.993,1)" x="0" y="0" text-anchor="middle" font-family='"Liberation Sans", Arial, Helvetica, sans-serif' font-weight="bold" font-size="62.5" fill="#262626">Altitude(km)</text>
</svg>
</body></html>
